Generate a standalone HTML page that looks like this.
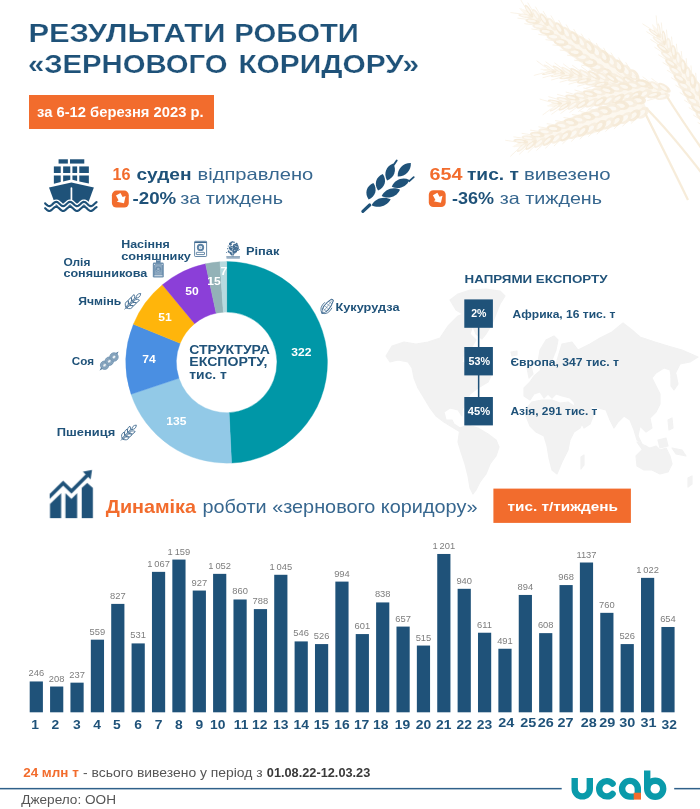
<!DOCTYPE html>
<html lang="uk">
<head>
<meta charset="utf-8">
<title>Результати роботи «зернового коридору»</title>
<style>
html,body{margin:0;padding:0;background:#fff;}
body{width:700px;height:809px;overflow:hidden;font-family:"Liberation Sans",sans-serif;}
svg{display:block;font-family:"Liberation Sans",sans-serif;}
svg text{white-space:pre;}
</style>
</head>
<body>
<svg width="700" height="809" viewBox="0 0 700 809">
<rect x="0" y="0" width="700" height="809" fill="#FFFFFF"/>
<defs><filter id="bl" x="-10%" y="-10%" width="120%" height="120%"><feGaussianBlur stdDeviation="0.7"/></filter></defs>
<g filter="url(#bl)" opacity="0.7">
<path d="M631,84 C640,104 664,150 688,200" fill="none" stroke="#F1DFC1" stroke-width="2.3" opacity="0.85"/>
<path d="M664,92 C674,108 690,132 704,152" fill="none" stroke="#F1DFC1" stroke-width="2.3" opacity="0.85"/>
<path d="M646,108 C662,124 684,150 704,176" fill="none" stroke="#F1DFC1" stroke-width="2.3" opacity="0.85"/>
<path d="M694,104 C697,112 700,118 704,126" fill="none" stroke="#F1DFC1" stroke-width="2.3" opacity="0.85"/>
<g transform="translate(634,84) rotate(-146.54)">
<path d="M0,-7.4 C34.5,-14.9 96.5,-12.2 137.8,0 C96.5,12.2 34.5,14.9 0,7.4 Z" fill="#F8EEDE" opacity="0.9"/>
<ellipse cx="4.4" cy="-6.7" rx="7.4" ry="4.6" transform="rotate(-24 4.4 -6.7)" fill="#F4E6CF" opacity="0.8"/>
<ellipse cx="5.4" cy="-6.2" rx="4.2" ry="2.1" transform="rotate(-24 4.4 -6.7)" fill="#FEFBF6" opacity="0.75"/>
<line x1="9.9" y1="-9.1" x2="18.9" y2="-13.5" stroke="#F4E7D1" stroke-width="0.8" opacity="0.8"/>
<ellipse cx="4.4" cy="6.7" rx="7.4" ry="4.6" transform="rotate(24 4.4 6.7)" fill="#F0DEC2" opacity="0.8"/>
<ellipse cx="5.4" cy="6.2" rx="4.2" ry="2.1" transform="rotate(24 4.4 6.7)" fill="#FEFBF6" opacity="0.75"/>
<line x1="9.9" y1="9.1" x2="18.9" y2="13.5" stroke="#F4E7D1" stroke-width="0.8" opacity="0.8"/>
<ellipse cx="7.9" cy="0" rx="5.5" ry="2.7" fill="#FBF5EA" opacity="0.8"/>
<ellipse cx="13.2" cy="-6.7" rx="7.4" ry="4.6" transform="rotate(-24 13.2 -6.7)" fill="#F0DEC2" opacity="0.8"/>
<ellipse cx="14.2" cy="-6.2" rx="4.2" ry="2.1" transform="rotate(-24 13.2 -6.7)" fill="#FEFBF6" opacity="0.75"/>
<line x1="18.7" y1="-9.1" x2="27.7" y2="-13.5" stroke="#F4E7D1" stroke-width="0.8" opacity="0.8"/>
<ellipse cx="13.2" cy="6.7" rx="7.4" ry="4.6" transform="rotate(24 13.2 6.7)" fill="#F4E6CF" opacity="0.8"/>
<ellipse cx="14.2" cy="6.2" rx="4.2" ry="2.1" transform="rotate(24 13.2 6.7)" fill="#FEFBF6" opacity="0.75"/>
<line x1="18.7" y1="9.1" x2="27.7" y2="13.5" stroke="#F4E7D1" stroke-width="0.8" opacity="0.8"/>
<ellipse cx="16.7" cy="0" rx="5.5" ry="2.7" fill="#FBF5EA" opacity="0.8"/>
<ellipse cx="22.1" cy="-6.7" rx="7.4" ry="4.6" transform="rotate(-24 22.1 -6.7)" fill="#F4E6CF" opacity="0.8"/>
<ellipse cx="23.1" cy="-6.2" rx="4.2" ry="2.1" transform="rotate(-24 22.1 -6.7)" fill="#FEFBF6" opacity="0.75"/>
<line x1="27.6" y1="-9.1" x2="36.6" y2="-13.5" stroke="#F4E7D1" stroke-width="0.8" opacity="0.8"/>
<ellipse cx="22.1" cy="6.7" rx="7.4" ry="4.6" transform="rotate(24 22.1 6.7)" fill="#F0DEC2" opacity="0.8"/>
<ellipse cx="23.1" cy="6.2" rx="4.2" ry="2.1" transform="rotate(24 22.1 6.7)" fill="#FEFBF6" opacity="0.75"/>
<line x1="27.6" y1="9.1" x2="36.6" y2="13.5" stroke="#F4E7D1" stroke-width="0.8" opacity="0.8"/>
<ellipse cx="25.6" cy="0" rx="5.5" ry="2.7" fill="#FBF5EA" opacity="0.8"/>
<ellipse cx="30.9" cy="-6.6" rx="7.4" ry="4.5" transform="rotate(-24 30.9 -6.6)" fill="#F0DEC2" opacity="0.8"/>
<ellipse cx="31.9" cy="-6.1" rx="4.2" ry="2.0" transform="rotate(-24 30.9 -6.6)" fill="#FEFBF6" opacity="0.75"/>
<line x1="36.4" y1="-9.0" x2="45.4" y2="-13.4" stroke="#F4E7D1" stroke-width="0.8" opacity="0.8"/>
<ellipse cx="30.9" cy="6.6" rx="7.4" ry="4.5" transform="rotate(24 30.9 6.6)" fill="#F4E6CF" opacity="0.8"/>
<ellipse cx="31.9" cy="6.1" rx="4.2" ry="2.0" transform="rotate(24 30.9 6.6)" fill="#FEFBF6" opacity="0.75"/>
<line x1="36.4" y1="9.0" x2="45.4" y2="13.4" stroke="#F4E7D1" stroke-width="0.8" opacity="0.8"/>
<ellipse cx="34.4" cy="0" rx="5.5" ry="2.7" fill="#FBF5EA" opacity="0.8"/>
<ellipse cx="39.7" cy="-6.6" rx="7.4" ry="4.5" transform="rotate(-24 39.7 -6.6)" fill="#F4E6CF" opacity="0.8"/>
<ellipse cx="40.7" cy="-6.0" rx="4.2" ry="2.0" transform="rotate(-24 39.7 -6.6)" fill="#FEFBF6" opacity="0.75"/>
<line x1="45.2" y1="-8.9" x2="54.2" y2="-13.3" stroke="#F4E7D1" stroke-width="0.8" opacity="0.8"/>
<ellipse cx="39.7" cy="6.6" rx="7.4" ry="4.5" transform="rotate(24 39.7 6.6)" fill="#F0DEC2" opacity="0.8"/>
<ellipse cx="40.7" cy="6.0" rx="4.2" ry="2.0" transform="rotate(24 39.7 6.6)" fill="#FEFBF6" opacity="0.75"/>
<line x1="45.2" y1="8.9" x2="54.2" y2="13.3" stroke="#F4E7D1" stroke-width="0.8" opacity="0.8"/>
<ellipse cx="43.2" cy="0" rx="5.5" ry="2.6" fill="#FBF5EA" opacity="0.8"/>
<ellipse cx="48.5" cy="-6.4" rx="7.4" ry="4.4" transform="rotate(-24 48.5 -6.4)" fill="#F0DEC2" opacity="0.8"/>
<ellipse cx="49.5" cy="-5.9" rx="4.2" ry="2.0" transform="rotate(-24 48.5 -6.4)" fill="#FEFBF6" opacity="0.75"/>
<line x1="54.0" y1="-8.7" x2="63.0" y2="-13.1" stroke="#F4E7D1" stroke-width="0.8" opacity="0.8"/>
<ellipse cx="48.5" cy="6.4" rx="7.4" ry="4.4" transform="rotate(24 48.5 6.4)" fill="#F4E6CF" opacity="0.8"/>
<ellipse cx="49.5" cy="5.9" rx="4.2" ry="2.0" transform="rotate(24 48.5 6.4)" fill="#FEFBF6" opacity="0.75"/>
<line x1="54.0" y1="8.7" x2="63.0" y2="13.1" stroke="#F4E7D1" stroke-width="0.8" opacity="0.8"/>
<ellipse cx="52.0" cy="0" rx="5.5" ry="2.6" fill="#FBF5EA" opacity="0.8"/>
<ellipse cx="57.3" cy="-6.2" rx="7.4" ry="4.2" transform="rotate(-24 57.3 -6.2)" fill="#F4E6CF" opacity="0.8"/>
<ellipse cx="58.3" cy="-5.7" rx="4.2" ry="1.9" transform="rotate(-24 57.3 -6.2)" fill="#FEFBF6" opacity="0.75"/>
<line x1="62.8" y1="-8.5" x2="71.8" y2="-12.9" stroke="#F4E7D1" stroke-width="0.8" opacity="0.8"/>
<ellipse cx="57.3" cy="6.2" rx="7.4" ry="4.2" transform="rotate(24 57.3 6.2)" fill="#F0DEC2" opacity="0.8"/>
<ellipse cx="58.3" cy="5.7" rx="4.2" ry="1.9" transform="rotate(24 57.3 6.2)" fill="#FEFBF6" opacity="0.75"/>
<line x1="62.8" y1="8.5" x2="71.8" y2="12.9" stroke="#F4E7D1" stroke-width="0.8" opacity="0.8"/>
<ellipse cx="60.8" cy="0" rx="5.5" ry="2.5" fill="#FBF5EA" opacity="0.8"/>
<ellipse cx="66.2" cy="-6.0" rx="7.4" ry="4.1" transform="rotate(-24 66.2 -6.0)" fill="#F0DEC2" opacity="0.8"/>
<ellipse cx="67.2" cy="-5.6" rx="4.2" ry="1.8" transform="rotate(-24 66.2 -6.0)" fill="#FEFBF6" opacity="0.75"/>
<line x1="71.7" y1="-8.2" x2="80.7" y2="-12.6" stroke="#F4E7D1" stroke-width="0.8" opacity="0.8"/>
<ellipse cx="66.2" cy="6.0" rx="7.4" ry="4.1" transform="rotate(24 66.2 6.0)" fill="#F4E6CF" opacity="0.8"/>
<ellipse cx="67.2" cy="5.6" rx="4.2" ry="1.8" transform="rotate(24 66.2 6.0)" fill="#FEFBF6" opacity="0.75"/>
<line x1="71.7" y1="8.2" x2="80.7" y2="12.6" stroke="#F4E7D1" stroke-width="0.8" opacity="0.8"/>
<ellipse cx="69.7" cy="0" rx="5.5" ry="2.4" fill="#FBF5EA" opacity="0.8"/>
<ellipse cx="75.0" cy="-5.8" rx="7.4" ry="3.9" transform="rotate(-24 75.0 -5.8)" fill="#F4E6CF" opacity="0.8"/>
<ellipse cx="76.0" cy="-5.3" rx="4.2" ry="1.8" transform="rotate(-24 75.0 -5.8)" fill="#FEFBF6" opacity="0.75"/>
<line x1="80.5" y1="-7.8" x2="89.5" y2="-12.2" stroke="#F4E7D1" stroke-width="0.8" opacity="0.8"/>
<ellipse cx="75.0" cy="5.8" rx="7.4" ry="3.9" transform="rotate(24 75.0 5.8)" fill="#F0DEC2" opacity="0.8"/>
<ellipse cx="76.0" cy="5.3" rx="4.2" ry="1.8" transform="rotate(24 75.0 5.8)" fill="#FEFBF6" opacity="0.75"/>
<line x1="80.5" y1="7.8" x2="89.5" y2="12.2" stroke="#F4E7D1" stroke-width="0.8" opacity="0.8"/>
<ellipse cx="78.5" cy="0" rx="5.5" ry="2.3" fill="#FBF5EA" opacity="0.8"/>
<ellipse cx="83.8" cy="-5.5" rx="7.4" ry="3.7" transform="rotate(-24 83.8 -5.5)" fill="#F0DEC2" opacity="0.8"/>
<ellipse cx="84.8" cy="-5.0" rx="4.2" ry="1.7" transform="rotate(-24 83.8 -5.5)" fill="#FEFBF6" opacity="0.75"/>
<line x1="89.3" y1="-7.4" x2="98.3" y2="-11.8" stroke="#F4E7D1" stroke-width="0.8" opacity="0.8"/>
<ellipse cx="83.8" cy="5.5" rx="7.4" ry="3.7" transform="rotate(24 83.8 5.5)" fill="#F4E6CF" opacity="0.8"/>
<ellipse cx="84.8" cy="5.0" rx="4.2" ry="1.7" transform="rotate(24 83.8 5.5)" fill="#FEFBF6" opacity="0.75"/>
<line x1="89.3" y1="7.4" x2="98.3" y2="11.8" stroke="#F4E7D1" stroke-width="0.8" opacity="0.8"/>
<ellipse cx="87.3" cy="0" rx="5.5" ry="2.2" fill="#FBF5EA" opacity="0.8"/>
<ellipse cx="92.6" cy="-5.1" rx="7.4" ry="3.5" transform="rotate(-24 92.6 -5.1)" fill="#F4E6CF" opacity="0.8"/>
<ellipse cx="93.6" cy="-4.7" rx="4.2" ry="1.6" transform="rotate(-24 92.6 -5.1)" fill="#FEFBF6" opacity="0.75"/>
<line x1="98.1" y1="-6.9" x2="107.1" y2="-11.3" stroke="#F4E7D1" stroke-width="0.8" opacity="0.8"/>
<ellipse cx="92.6" cy="5.1" rx="7.4" ry="3.5" transform="rotate(24 92.6 5.1)" fill="#F0DEC2" opacity="0.8"/>
<ellipse cx="93.6" cy="4.7" rx="4.2" ry="1.6" transform="rotate(24 92.6 5.1)" fill="#FEFBF6" opacity="0.75"/>
<line x1="98.1" y1="6.9" x2="107.1" y2="11.3" stroke="#F4E7D1" stroke-width="0.8" opacity="0.8"/>
<ellipse cx="96.1" cy="0" rx="5.5" ry="2.0" fill="#FBF5EA" opacity="0.8"/>
<ellipse cx="101.5" cy="-4.7" rx="7.4" ry="3.2" transform="rotate(-24 101.5 -4.7)" fill="#F0DEC2" opacity="0.8"/>
<ellipse cx="102.5" cy="-4.3" rx="4.2" ry="1.4" transform="rotate(-24 101.5 -4.7)" fill="#FEFBF6" opacity="0.75"/>
<line x1="107.0" y1="-6.3" x2="116.0" y2="-10.7" stroke="#F4E7D1" stroke-width="0.8" opacity="0.8"/>
<ellipse cx="101.5" cy="4.7" rx="7.4" ry="3.2" transform="rotate(24 101.5 4.7)" fill="#F4E6CF" opacity="0.8"/>
<ellipse cx="102.5" cy="4.3" rx="4.2" ry="1.4" transform="rotate(24 101.5 4.7)" fill="#FEFBF6" opacity="0.75"/>
<line x1="107.0" y1="6.3" x2="116.0" y2="10.7" stroke="#F4E7D1" stroke-width="0.8" opacity="0.8"/>
<ellipse cx="105.0" cy="0" rx="5.5" ry="1.9" fill="#FBF5EA" opacity="0.8"/>
<ellipse cx="110.3" cy="-4.2" rx="7.4" ry="2.8" transform="rotate(-24 110.3 -4.2)" fill="#F4E6CF" opacity="0.8"/>
<ellipse cx="111.3" cy="-3.8" rx="4.2" ry="1.3" transform="rotate(-24 110.3 -4.2)" fill="#FEFBF6" opacity="0.75"/>
<line x1="115.8" y1="-5.7" x2="124.8" y2="-10.1" stroke="#F4E7D1" stroke-width="0.8" opacity="0.8"/>
<ellipse cx="110.3" cy="4.2" rx="7.4" ry="2.8" transform="rotate(24 110.3 4.2)" fill="#F0DEC2" opacity="0.8"/>
<ellipse cx="111.3" cy="3.8" rx="4.2" ry="1.3" transform="rotate(24 110.3 4.2)" fill="#FEFBF6" opacity="0.75"/>
<line x1="115.8" y1="5.7" x2="124.8" y2="10.1" stroke="#F4E7D1" stroke-width="0.8" opacity="0.8"/>
<ellipse cx="113.8" cy="0" rx="5.5" ry="1.7" fill="#FBF5EA" opacity="0.8"/>
<ellipse cx="119.1" cy="-3.6" rx="7.4" ry="2.5" transform="rotate(-24 119.1 -3.6)" fill="#F0DEC2" opacity="0.8"/>
<ellipse cx="120.1" cy="-3.3" rx="4.2" ry="1.1" transform="rotate(-24 119.1 -3.6)" fill="#FEFBF6" opacity="0.75"/>
<line x1="124.6" y1="-4.9" x2="133.6" y2="-9.3" stroke="#F4E7D1" stroke-width="0.8" opacity="0.8"/>
<ellipse cx="119.1" cy="3.6" rx="7.4" ry="2.5" transform="rotate(24 119.1 3.6)" fill="#F4E6CF" opacity="0.8"/>
<ellipse cx="120.1" cy="3.3" rx="4.2" ry="1.1" transform="rotate(24 119.1 3.6)" fill="#FEFBF6" opacity="0.75"/>
<line x1="124.6" y1="4.9" x2="133.6" y2="9.3" stroke="#F4E7D1" stroke-width="0.8" opacity="0.8"/>
<ellipse cx="122.6" cy="0" rx="5.5" ry="1.5" fill="#FBF5EA" opacity="0.8"/>
<ellipse cx="127.9" cy="-3.0" rx="7.4" ry="2.1" transform="rotate(-24 127.9 -3.0)" fill="#F4E6CF" opacity="0.8"/>
<ellipse cx="128.9" cy="-2.8" rx="4.2" ry="0.9" transform="rotate(-24 127.9 -3.0)" fill="#FEFBF6" opacity="0.75"/>
<line x1="133.4" y1="-4.1" x2="142.4" y2="-8.5" stroke="#F4E7D1" stroke-width="0.8" opacity="0.8"/>
<ellipse cx="127.9" cy="3.0" rx="7.4" ry="2.1" transform="rotate(24 127.9 3.0)" fill="#F0DEC2" opacity="0.8"/>
<ellipse cx="128.9" cy="2.8" rx="4.2" ry="0.9" transform="rotate(24 127.9 3.0)" fill="#FEFBF6" opacity="0.75"/>
<line x1="133.4" y1="4.1" x2="142.4" y2="8.5" stroke="#F4E7D1" stroke-width="0.8" opacity="0.8"/>
<ellipse cx="131.4" cy="0" rx="5.5" ry="1.2" fill="#FBF5EA" opacity="0.8"/>
</g>
<g transform="translate(668,93) rotate(-169.38)">
<path d="M0,-5.0 C32.6,-9.9 91.2,-8.1 130.2,0 C91.2,8.1 32.6,9.9 0,5.0 Z" fill="#F8EEDE" opacity="0.9"/>
<ellipse cx="4.5" cy="-4.5" rx="7.4" ry="3.1" transform="rotate(-24 4.5 -4.5)" fill="#F4E6CF" opacity="0.8"/>
<ellipse cx="5.5" cy="-4.1" rx="4.2" ry="1.4" transform="rotate(-24 4.5 -4.5)" fill="#FEFBF6" opacity="0.75"/>
<line x1="10.0" y1="-6.9" x2="19.0" y2="-11.3" stroke="#F4E7D1" stroke-width="0.8" opacity="0.8"/>
<ellipse cx="4.5" cy="4.5" rx="7.4" ry="3.1" transform="rotate(24 4.5 4.5)" fill="#F0DEC2" opacity="0.8"/>
<ellipse cx="5.5" cy="4.1" rx="4.2" ry="1.4" transform="rotate(24 4.5 4.5)" fill="#FEFBF6" opacity="0.75"/>
<line x1="10.0" y1="6.9" x2="19.0" y2="11.3" stroke="#F4E7D1" stroke-width="0.8" opacity="0.8"/>
<ellipse cx="8.0" cy="0" rx="5.5" ry="1.8" fill="#FBF5EA" opacity="0.8"/>
<ellipse cx="13.4" cy="-4.5" rx="7.4" ry="3.1" transform="rotate(-24 13.4 -4.5)" fill="#F0DEC2" opacity="0.8"/>
<ellipse cx="14.4" cy="-4.1" rx="4.2" ry="1.4" transform="rotate(-24 13.4 -4.5)" fill="#FEFBF6" opacity="0.75"/>
<line x1="18.9" y1="-6.9" x2="27.9" y2="-11.3" stroke="#F4E7D1" stroke-width="0.8" opacity="0.8"/>
<ellipse cx="13.4" cy="4.5" rx="7.4" ry="3.1" transform="rotate(24 13.4 4.5)" fill="#F4E6CF" opacity="0.8"/>
<ellipse cx="14.4" cy="4.1" rx="4.2" ry="1.4" transform="rotate(24 13.4 4.5)" fill="#FEFBF6" opacity="0.75"/>
<line x1="18.9" y1="6.9" x2="27.9" y2="11.3" stroke="#F4E7D1" stroke-width="0.8" opacity="0.8"/>
<ellipse cx="16.9" cy="0" rx="5.5" ry="1.8" fill="#FBF5EA" opacity="0.8"/>
<ellipse cx="22.3" cy="-4.5" rx="7.4" ry="3.0" transform="rotate(-24 22.3 -4.5)" fill="#F4E6CF" opacity="0.8"/>
<ellipse cx="23.3" cy="-4.1" rx="4.2" ry="1.4" transform="rotate(-24 22.3 -4.5)" fill="#FEFBF6" opacity="0.75"/>
<line x1="27.8" y1="-6.8" x2="36.8" y2="-11.2" stroke="#F4E7D1" stroke-width="0.8" opacity="0.8"/>
<ellipse cx="22.3" cy="4.5" rx="7.4" ry="3.0" transform="rotate(24 22.3 4.5)" fill="#F0DEC2" opacity="0.8"/>
<ellipse cx="23.3" cy="4.1" rx="4.2" ry="1.4" transform="rotate(24 22.3 4.5)" fill="#FEFBF6" opacity="0.75"/>
<line x1="27.8" y1="6.8" x2="36.8" y2="11.2" stroke="#F4E7D1" stroke-width="0.8" opacity="0.8"/>
<ellipse cx="25.8" cy="0" rx="5.5" ry="1.8" fill="#FBF5EA" opacity="0.8"/>
<ellipse cx="31.3" cy="-4.4" rx="7.4" ry="3.0" transform="rotate(-24 31.3 -4.4)" fill="#F0DEC2" opacity="0.8"/>
<ellipse cx="32.3" cy="-4.1" rx="4.2" ry="1.4" transform="rotate(-24 31.3 -4.4)" fill="#FEFBF6" opacity="0.75"/>
<line x1="36.8" y1="-6.8" x2="45.8" y2="-11.2" stroke="#F4E7D1" stroke-width="0.8" opacity="0.8"/>
<ellipse cx="31.3" cy="4.4" rx="7.4" ry="3.0" transform="rotate(24 31.3 4.4)" fill="#F4E6CF" opacity="0.8"/>
<ellipse cx="32.3" cy="4.1" rx="4.2" ry="1.4" transform="rotate(24 31.3 4.4)" fill="#FEFBF6" opacity="0.75"/>
<line x1="36.8" y1="6.8" x2="45.8" y2="11.2" stroke="#F4E7D1" stroke-width="0.8" opacity="0.8"/>
<ellipse cx="34.8" cy="0" rx="5.5" ry="1.8" fill="#FBF5EA" opacity="0.8"/>
<ellipse cx="40.2" cy="-4.3" rx="7.4" ry="3.0" transform="rotate(-24 40.2 -4.3)" fill="#F4E6CF" opacity="0.8"/>
<ellipse cx="41.2" cy="-4.0" rx="4.2" ry="1.3" transform="rotate(-24 40.2 -4.3)" fill="#FEFBF6" opacity="0.75"/>
<line x1="45.7" y1="-6.7" x2="54.7" y2="-11.1" stroke="#F4E7D1" stroke-width="0.8" opacity="0.8"/>
<ellipse cx="40.2" cy="4.3" rx="7.4" ry="3.0" transform="rotate(24 40.2 4.3)" fill="#F0DEC2" opacity="0.8"/>
<ellipse cx="41.2" cy="4.0" rx="4.2" ry="1.3" transform="rotate(24 40.2 4.3)" fill="#FEFBF6" opacity="0.75"/>
<line x1="45.7" y1="6.7" x2="54.7" y2="11.1" stroke="#F4E7D1" stroke-width="0.8" opacity="0.8"/>
<ellipse cx="43.7" cy="0" rx="5.5" ry="1.7" fill="#FBF5EA" opacity="0.8"/>
<ellipse cx="49.1" cy="-4.2" rx="7.4" ry="2.9" transform="rotate(-24 49.1 -4.2)" fill="#F0DEC2" opacity="0.8"/>
<ellipse cx="50.1" cy="-3.9" rx="4.2" ry="1.3" transform="rotate(-24 49.1 -4.2)" fill="#FEFBF6" opacity="0.75"/>
<line x1="54.6" y1="-6.5" x2="63.6" y2="-10.9" stroke="#F4E7D1" stroke-width="0.8" opacity="0.8"/>
<ellipse cx="49.1" cy="4.2" rx="7.4" ry="2.9" transform="rotate(24 49.1 4.2)" fill="#F4E6CF" opacity="0.8"/>
<ellipse cx="50.1" cy="3.9" rx="4.2" ry="1.3" transform="rotate(24 49.1 4.2)" fill="#FEFBF6" opacity="0.75"/>
<line x1="54.6" y1="6.5" x2="63.6" y2="10.9" stroke="#F4E7D1" stroke-width="0.8" opacity="0.8"/>
<ellipse cx="52.6" cy="0" rx="5.5" ry="1.7" fill="#FBF5EA" opacity="0.8"/>
<ellipse cx="58.0" cy="-4.1" rx="7.4" ry="2.8" transform="rotate(-24 58.0 -4.1)" fill="#F4E6CF" opacity="0.8"/>
<ellipse cx="59.0" cy="-3.8" rx="4.2" ry="1.3" transform="rotate(-24 58.0 -4.1)" fill="#FEFBF6" opacity="0.75"/>
<line x1="63.5" y1="-6.3" x2="72.5" y2="-10.7" stroke="#F4E7D1" stroke-width="0.8" opacity="0.8"/>
<ellipse cx="58.0" cy="4.1" rx="7.4" ry="2.8" transform="rotate(24 58.0 4.1)" fill="#F0DEC2" opacity="0.8"/>
<ellipse cx="59.0" cy="3.8" rx="4.2" ry="1.3" transform="rotate(24 58.0 4.1)" fill="#FEFBF6" opacity="0.75"/>
<line x1="63.5" y1="6.3" x2="72.5" y2="10.7" stroke="#F4E7D1" stroke-width="0.8" opacity="0.8"/>
<ellipse cx="61.5" cy="0" rx="5.5" ry="1.6" fill="#FBF5EA" opacity="0.8"/>
<ellipse cx="67.0" cy="-3.9" rx="7.4" ry="2.7" transform="rotate(-24 67.0 -3.9)" fill="#F0DEC2" opacity="0.8"/>
<ellipse cx="68.0" cy="-3.6" rx="4.2" ry="1.2" transform="rotate(-24 67.0 -3.9)" fill="#FEFBF6" opacity="0.75"/>
<line x1="72.5" y1="-6.0" x2="81.5" y2="-10.4" stroke="#F4E7D1" stroke-width="0.8" opacity="0.8"/>
<ellipse cx="67.0" cy="3.9" rx="7.4" ry="2.7" transform="rotate(24 67.0 3.9)" fill="#F4E6CF" opacity="0.8"/>
<ellipse cx="68.0" cy="3.6" rx="4.2" ry="1.2" transform="rotate(24 67.0 3.9)" fill="#FEFBF6" opacity="0.75"/>
<line x1="72.5" y1="6.0" x2="81.5" y2="10.4" stroke="#F4E7D1" stroke-width="0.8" opacity="0.8"/>
<ellipse cx="70.5" cy="0" rx="5.5" ry="1.6" fill="#FBF5EA" opacity="0.8"/>
<ellipse cx="75.9" cy="-3.7" rx="7.4" ry="2.5" transform="rotate(-24 75.9 -3.7)" fill="#F4E6CF" opacity="0.8"/>
<ellipse cx="76.9" cy="-3.4" rx="4.2" ry="1.1" transform="rotate(-24 75.9 -3.7)" fill="#FEFBF6" opacity="0.75"/>
<line x1="81.4" y1="-5.7" x2="90.4" y2="-10.1" stroke="#F4E7D1" stroke-width="0.8" opacity="0.8"/>
<ellipse cx="75.9" cy="3.7" rx="7.4" ry="2.5" transform="rotate(24 75.9 3.7)" fill="#F0DEC2" opacity="0.8"/>
<ellipse cx="76.9" cy="3.4" rx="4.2" ry="1.1" transform="rotate(24 75.9 3.7)" fill="#FEFBF6" opacity="0.75"/>
<line x1="81.4" y1="5.7" x2="90.4" y2="10.1" stroke="#F4E7D1" stroke-width="0.8" opacity="0.8"/>
<ellipse cx="79.4" cy="0" rx="5.5" ry="1.5" fill="#FBF5EA" opacity="0.8"/>
<ellipse cx="84.8" cy="-3.5" rx="7.4" ry="2.4" transform="rotate(-24 84.8 -3.5)" fill="#F0DEC2" opacity="0.8"/>
<ellipse cx="85.8" cy="-3.2" rx="4.2" ry="1.1" transform="rotate(-24 84.8 -3.5)" fill="#FEFBF6" opacity="0.75"/>
<line x1="90.3" y1="-5.3" x2="99.3" y2="-9.7" stroke="#F4E7D1" stroke-width="0.8" opacity="0.8"/>
<ellipse cx="84.8" cy="3.5" rx="7.4" ry="2.4" transform="rotate(24 84.8 3.5)" fill="#F4E6CF" opacity="0.8"/>
<ellipse cx="85.8" cy="3.2" rx="4.2" ry="1.1" transform="rotate(24 84.8 3.5)" fill="#FEFBF6" opacity="0.75"/>
<line x1="90.3" y1="5.3" x2="99.3" y2="9.7" stroke="#F4E7D1" stroke-width="0.8" opacity="0.8"/>
<ellipse cx="88.3" cy="0" rx="5.5" ry="1.4" fill="#FBF5EA" opacity="0.8"/>
<ellipse cx="93.8" cy="-3.2" rx="7.4" ry="2.2" transform="rotate(-24 93.8 -3.2)" fill="#F4E6CF" opacity="0.8"/>
<ellipse cx="94.8" cy="-2.9" rx="4.2" ry="1.0" transform="rotate(-24 93.8 -3.2)" fill="#FEFBF6" opacity="0.75"/>
<line x1="99.3" y1="-4.9" x2="108.3" y2="-9.3" stroke="#F4E7D1" stroke-width="0.8" opacity="0.8"/>
<ellipse cx="93.8" cy="3.2" rx="7.4" ry="2.2" transform="rotate(24 93.8 3.2)" fill="#F0DEC2" opacity="0.8"/>
<ellipse cx="94.8" cy="2.9" rx="4.2" ry="1.0" transform="rotate(24 93.8 3.2)" fill="#FEFBF6" opacity="0.75"/>
<line x1="99.3" y1="4.9" x2="108.3" y2="9.3" stroke="#F4E7D1" stroke-width="0.8" opacity="0.8"/>
<ellipse cx="97.3" cy="0" rx="5.5" ry="1.3" fill="#FBF5EA" opacity="0.8"/>
<ellipse cx="102.7" cy="-2.8" rx="7.4" ry="1.9" transform="rotate(-24 102.7 -2.8)" fill="#F0DEC2" opacity="0.8"/>
<ellipse cx="103.7" cy="-2.6" rx="4.2" ry="0.9" transform="rotate(-24 102.7 -2.8)" fill="#FEFBF6" opacity="0.75"/>
<line x1="108.2" y1="-4.4" x2="117.2" y2="-8.8" stroke="#F4E7D1" stroke-width="0.8" opacity="0.8"/>
<ellipse cx="102.7" cy="2.8" rx="7.4" ry="1.9" transform="rotate(24 102.7 2.8)" fill="#F4E6CF" opacity="0.8"/>
<ellipse cx="103.7" cy="2.6" rx="4.2" ry="0.9" transform="rotate(24 102.7 2.8)" fill="#FEFBF6" opacity="0.75"/>
<line x1="108.2" y1="4.4" x2="117.2" y2="8.8" stroke="#F4E7D1" stroke-width="0.8" opacity="0.8"/>
<ellipse cx="106.2" cy="0" rx="5.5" ry="1.1" fill="#FBF5EA" opacity="0.8"/>
<ellipse cx="111.6" cy="-2.5" rx="7.4" ry="1.7" transform="rotate(-24 111.6 -2.5)" fill="#F4E6CF" opacity="0.8"/>
<ellipse cx="112.6" cy="-2.3" rx="4.2" ry="0.8" transform="rotate(-24 111.6 -2.5)" fill="#FEFBF6" opacity="0.75"/>
<line x1="117.1" y1="-3.8" x2="126.1" y2="-8.2" stroke="#F4E7D1" stroke-width="0.8" opacity="0.8"/>
<ellipse cx="111.6" cy="2.5" rx="7.4" ry="1.7" transform="rotate(24 111.6 2.5)" fill="#F0DEC2" opacity="0.8"/>
<ellipse cx="112.6" cy="2.3" rx="4.2" ry="0.8" transform="rotate(24 111.6 2.5)" fill="#FEFBF6" opacity="0.75"/>
<line x1="117.1" y1="3.8" x2="126.1" y2="8.2" stroke="#F4E7D1" stroke-width="0.8" opacity="0.8"/>
<ellipse cx="115.1" cy="0" rx="5.5" ry="1.0" fill="#FBF5EA" opacity="0.8"/>
<ellipse cx="120.6" cy="-2.0" rx="7.4" ry="1.4" transform="rotate(-24 120.6 -2.0)" fill="#F0DEC2" opacity="0.8"/>
<ellipse cx="121.6" cy="-1.9" rx="4.2" ry="0.6" transform="rotate(-24 120.6 -2.0)" fill="#FEFBF6" opacity="0.75"/>
<line x1="126.1" y1="-3.1" x2="135.1" y2="-7.5" stroke="#F4E7D1" stroke-width="0.8" opacity="0.8"/>
<ellipse cx="120.6" cy="2.0" rx="7.4" ry="1.4" transform="rotate(24 120.6 2.0)" fill="#F4E6CF" opacity="0.8"/>
<ellipse cx="121.6" cy="1.9" rx="4.2" ry="0.6" transform="rotate(24 120.6 2.0)" fill="#FEFBF6" opacity="0.75"/>
<line x1="126.1" y1="3.1" x2="135.1" y2="7.5" stroke="#F4E7D1" stroke-width="0.8" opacity="0.8"/>
<ellipse cx="124.1" cy="0" rx="5.5" ry="0.8" fill="#FBF5EA" opacity="0.8"/>
</g>
<g transform="translate(648,88) rotate(169.89)">
<path d="M0,-6.1 C25.6,-12.1 71.8,-9.9 102.6,0 C71.8,9.9 25.6,12.1 0,6.1 Z" fill="#F8EEDE" opacity="0.9"/>
<ellipse cx="4.5" cy="-5.5" rx="7.4" ry="3.7" transform="rotate(-24 4.5 -5.5)" fill="#F4E6CF" opacity="0.8"/>
<ellipse cx="5.5" cy="-5.1" rx="4.2" ry="1.7" transform="rotate(-24 4.5 -5.5)" fill="#FEFBF6" opacity="0.75"/>
<line x1="10.0" y1="-7.9" x2="19.0" y2="-12.3" stroke="#F4E7D1" stroke-width="0.8" opacity="0.8"/>
<ellipse cx="4.5" cy="5.5" rx="7.4" ry="3.7" transform="rotate(24 4.5 5.5)" fill="#F0DEC2" opacity="0.8"/>
<ellipse cx="5.5" cy="5.1" rx="4.2" ry="1.7" transform="rotate(24 4.5 5.5)" fill="#FEFBF6" opacity="0.75"/>
<line x1="10.0" y1="7.9" x2="19.0" y2="12.3" stroke="#F4E7D1" stroke-width="0.8" opacity="0.8"/>
<ellipse cx="8.0" cy="0" rx="5.5" ry="2.2" fill="#FBF5EA" opacity="0.8"/>
<ellipse cx="13.4" cy="-5.5" rx="7.4" ry="3.7" transform="rotate(-24 13.4 -5.5)" fill="#F0DEC2" opacity="0.8"/>
<ellipse cx="14.4" cy="-5.0" rx="4.2" ry="1.7" transform="rotate(-24 13.4 -5.5)" fill="#FEFBF6" opacity="0.75"/>
<line x1="18.9" y1="-7.9" x2="27.9" y2="-12.3" stroke="#F4E7D1" stroke-width="0.8" opacity="0.8"/>
<ellipse cx="13.4" cy="5.5" rx="7.4" ry="3.7" transform="rotate(24 13.4 5.5)" fill="#F4E6CF" opacity="0.8"/>
<ellipse cx="14.4" cy="5.0" rx="4.2" ry="1.7" transform="rotate(24 13.4 5.5)" fill="#FEFBF6" opacity="0.75"/>
<line x1="18.9" y1="7.9" x2="27.9" y2="12.3" stroke="#F4E7D1" stroke-width="0.8" opacity="0.8"/>
<ellipse cx="16.9" cy="0" rx="5.5" ry="2.2" fill="#FBF5EA" opacity="0.8"/>
<ellipse cx="22.4" cy="-5.4" rx="7.4" ry="3.7" transform="rotate(-24 22.4 -5.4)" fill="#F4E6CF" opacity="0.8"/>
<ellipse cx="23.4" cy="-5.0" rx="4.2" ry="1.7" transform="rotate(-24 22.4 -5.4)" fill="#FEFBF6" opacity="0.75"/>
<line x1="27.9" y1="-7.8" x2="36.9" y2="-12.2" stroke="#F4E7D1" stroke-width="0.8" opacity="0.8"/>
<ellipse cx="22.4" cy="5.4" rx="7.4" ry="3.7" transform="rotate(24 22.4 5.4)" fill="#F0DEC2" opacity="0.8"/>
<ellipse cx="23.4" cy="5.0" rx="4.2" ry="1.7" transform="rotate(24 22.4 5.4)" fill="#FEFBF6" opacity="0.75"/>
<line x1="27.9" y1="7.8" x2="36.9" y2="12.2" stroke="#F4E7D1" stroke-width="0.8" opacity="0.8"/>
<ellipse cx="25.9" cy="0" rx="5.5" ry="2.2" fill="#FBF5EA" opacity="0.8"/>
<ellipse cx="31.3" cy="-5.3" rx="7.4" ry="3.6" transform="rotate(-24 31.3 -5.3)" fill="#F0DEC2" opacity="0.8"/>
<ellipse cx="32.3" cy="-4.9" rx="4.2" ry="1.6" transform="rotate(-24 31.3 -5.3)" fill="#FEFBF6" opacity="0.75"/>
<line x1="36.8" y1="-7.6" x2="45.8" y2="-12.0" stroke="#F4E7D1" stroke-width="0.8" opacity="0.8"/>
<ellipse cx="31.3" cy="5.3" rx="7.4" ry="3.6" transform="rotate(24 31.3 5.3)" fill="#F4E6CF" opacity="0.8"/>
<ellipse cx="32.3" cy="4.9" rx="4.2" ry="1.6" transform="rotate(24 31.3 5.3)" fill="#FEFBF6" opacity="0.75"/>
<line x1="36.8" y1="7.6" x2="45.8" y2="12.0" stroke="#F4E7D1" stroke-width="0.8" opacity="0.8"/>
<ellipse cx="34.8" cy="0" rx="5.5" ry="2.1" fill="#FBF5EA" opacity="0.8"/>
<ellipse cx="40.3" cy="-5.1" rx="7.4" ry="3.5" transform="rotate(-24 40.3 -5.1)" fill="#F4E6CF" opacity="0.8"/>
<ellipse cx="41.3" cy="-4.7" rx="4.2" ry="1.6" transform="rotate(-24 40.3 -5.1)" fill="#FEFBF6" opacity="0.75"/>
<line x1="45.8" y1="-7.4" x2="54.8" y2="-11.8" stroke="#F4E7D1" stroke-width="0.8" opacity="0.8"/>
<ellipse cx="40.3" cy="5.1" rx="7.4" ry="3.5" transform="rotate(24 40.3 5.1)" fill="#F0DEC2" opacity="0.8"/>
<ellipse cx="41.3" cy="4.7" rx="4.2" ry="1.6" transform="rotate(24 40.3 5.1)" fill="#FEFBF6" opacity="0.75"/>
<line x1="45.8" y1="7.4" x2="54.8" y2="11.8" stroke="#F4E7D1" stroke-width="0.8" opacity="0.8"/>
<ellipse cx="43.8" cy="0" rx="5.5" ry="2.1" fill="#FBF5EA" opacity="0.8"/>
<ellipse cx="49.2" cy="-4.9" rx="7.4" ry="3.3" transform="rotate(-24 49.2 -4.9)" fill="#F0DEC2" opacity="0.8"/>
<ellipse cx="50.2" cy="-4.5" rx="4.2" ry="1.5" transform="rotate(-24 49.2 -4.9)" fill="#FEFBF6" opacity="0.75"/>
<line x1="54.7" y1="-7.1" x2="63.7" y2="-11.5" stroke="#F4E7D1" stroke-width="0.8" opacity="0.8"/>
<ellipse cx="49.2" cy="4.9" rx="7.4" ry="3.3" transform="rotate(24 49.2 4.9)" fill="#F4E6CF" opacity="0.8"/>
<ellipse cx="50.2" cy="4.5" rx="4.2" ry="1.5" transform="rotate(24 49.2 4.9)" fill="#FEFBF6" opacity="0.75"/>
<line x1="54.7" y1="7.1" x2="63.7" y2="11.5" stroke="#F4E7D1" stroke-width="0.8" opacity="0.8"/>
<ellipse cx="52.7" cy="0" rx="5.5" ry="2.0" fill="#FBF5EA" opacity="0.8"/>
<ellipse cx="58.2" cy="-4.6" rx="7.4" ry="3.1" transform="rotate(-24 58.2 -4.6)" fill="#F4E6CF" opacity="0.8"/>
<ellipse cx="59.2" cy="-4.2" rx="4.2" ry="1.4" transform="rotate(-24 58.2 -4.6)" fill="#FEFBF6" opacity="0.75"/>
<line x1="63.7" y1="-6.6" x2="72.7" y2="-11.0" stroke="#F4E7D1" stroke-width="0.8" opacity="0.8"/>
<ellipse cx="58.2" cy="4.6" rx="7.4" ry="3.1" transform="rotate(24 58.2 4.6)" fill="#F0DEC2" opacity="0.8"/>
<ellipse cx="59.2" cy="4.2" rx="4.2" ry="1.4" transform="rotate(24 58.2 4.6)" fill="#FEFBF6" opacity="0.75"/>
<line x1="63.7" y1="6.6" x2="72.7" y2="11.0" stroke="#F4E7D1" stroke-width="0.8" opacity="0.8"/>
<ellipse cx="61.7" cy="0" rx="5.5" ry="1.8" fill="#FBF5EA" opacity="0.8"/>
<ellipse cx="67.2" cy="-4.2" rx="7.4" ry="2.9" transform="rotate(-24 67.2 -4.2)" fill="#F0DEC2" opacity="0.8"/>
<ellipse cx="68.2" cy="-3.9" rx="4.2" ry="1.3" transform="rotate(-24 67.2 -4.2)" fill="#FEFBF6" opacity="0.75"/>
<line x1="72.7" y1="-6.1" x2="81.7" y2="-10.5" stroke="#F4E7D1" stroke-width="0.8" opacity="0.8"/>
<ellipse cx="67.2" cy="4.2" rx="7.4" ry="2.9" transform="rotate(24 67.2 4.2)" fill="#F4E6CF" opacity="0.8"/>
<ellipse cx="68.2" cy="3.9" rx="4.2" ry="1.3" transform="rotate(24 67.2 4.2)" fill="#FEFBF6" opacity="0.75"/>
<line x1="72.7" y1="6.1" x2="81.7" y2="10.5" stroke="#F4E7D1" stroke-width="0.8" opacity="0.8"/>
<ellipse cx="70.7" cy="0" rx="5.5" ry="1.7" fill="#FBF5EA" opacity="0.8"/>
<ellipse cx="76.1" cy="-3.8" rx="7.4" ry="2.6" transform="rotate(-24 76.1 -3.8)" fill="#F4E6CF" opacity="0.8"/>
<ellipse cx="77.1" cy="-3.5" rx="4.2" ry="1.2" transform="rotate(-24 76.1 -3.8)" fill="#FEFBF6" opacity="0.75"/>
<line x1="81.6" y1="-5.4" x2="90.6" y2="-9.8" stroke="#F4E7D1" stroke-width="0.8" opacity="0.8"/>
<ellipse cx="76.1" cy="3.8" rx="7.4" ry="2.6" transform="rotate(24 76.1 3.8)" fill="#F0DEC2" opacity="0.8"/>
<ellipse cx="77.1" cy="3.5" rx="4.2" ry="1.2" transform="rotate(24 76.1 3.8)" fill="#FEFBF6" opacity="0.75"/>
<line x1="81.6" y1="5.4" x2="90.6" y2="9.8" stroke="#F4E7D1" stroke-width="0.8" opacity="0.8"/>
<ellipse cx="79.6" cy="0" rx="5.5" ry="1.5" fill="#FBF5EA" opacity="0.8"/>
<ellipse cx="85.1" cy="-3.2" rx="7.4" ry="2.2" transform="rotate(-24 85.1 -3.2)" fill="#F0DEC2" opacity="0.8"/>
<ellipse cx="86.1" cy="-3.0" rx="4.2" ry="1.0" transform="rotate(-24 85.1 -3.2)" fill="#FEFBF6" opacity="0.75"/>
<line x1="90.6" y1="-4.6" x2="99.6" y2="-9.0" stroke="#F4E7D1" stroke-width="0.8" opacity="0.8"/>
<ellipse cx="85.1" cy="3.2" rx="7.4" ry="2.2" transform="rotate(24 85.1 3.2)" fill="#F4E6CF" opacity="0.8"/>
<ellipse cx="86.1" cy="3.0" rx="4.2" ry="1.0" transform="rotate(24 85.1 3.2)" fill="#FEFBF6" opacity="0.75"/>
<line x1="90.6" y1="4.6" x2="99.6" y2="9.0" stroke="#F4E7D1" stroke-width="0.8" opacity="0.8"/>
<ellipse cx="88.6" cy="0" rx="5.5" ry="1.3" fill="#FBF5EA" opacity="0.8"/>
<ellipse cx="94.0" cy="-2.6" rx="7.4" ry="1.7" transform="rotate(-24 94.0 -2.6)" fill="#F4E6CF" opacity="0.8"/>
<ellipse cx="95.0" cy="-2.4" rx="4.2" ry="0.8" transform="rotate(-24 94.0 -2.6)" fill="#FEFBF6" opacity="0.75"/>
<line x1="99.5" y1="-3.7" x2="108.5" y2="-8.1" stroke="#F4E7D1" stroke-width="0.8" opacity="0.8"/>
<ellipse cx="94.0" cy="2.6" rx="7.4" ry="1.7" transform="rotate(24 94.0 2.6)" fill="#F0DEC2" opacity="0.8"/>
<ellipse cx="95.0" cy="2.4" rx="4.2" ry="0.8" transform="rotate(24 94.0 2.6)" fill="#FEFBF6" opacity="0.75"/>
<line x1="99.5" y1="3.7" x2="108.5" y2="8.1" stroke="#F4E7D1" stroke-width="0.8" opacity="0.8"/>
<ellipse cx="97.5" cy="0" rx="5.5" ry="1.0" fill="#FBF5EA" opacity="0.8"/>
</g>
<g transform="translate(645,105) rotate(162.47)">
<path d="M0,-7.4 C34.9,-14.9 97.6,-12.2 139.5,0 C97.6,12.2 34.9,14.9 0,7.4 Z" fill="#F8EEDE" opacity="0.9"/>
<ellipse cx="4.5" cy="-6.7" rx="7.4" ry="4.6" transform="rotate(-24 4.5 -6.7)" fill="#F4E6CF" opacity="0.8"/>
<ellipse cx="5.5" cy="-6.2" rx="4.2" ry="2.1" transform="rotate(-24 4.5 -6.7)" fill="#FEFBF6" opacity="0.75"/>
<line x1="10.0" y1="-9.1" x2="19.0" y2="-13.5" stroke="#F4E7D1" stroke-width="0.8" opacity="0.8"/>
<ellipse cx="4.5" cy="6.7" rx="7.4" ry="4.6" transform="rotate(24 4.5 6.7)" fill="#F0DEC2" opacity="0.8"/>
<ellipse cx="5.5" cy="6.2" rx="4.2" ry="2.1" transform="rotate(24 4.5 6.7)" fill="#FEFBF6" opacity="0.75"/>
<line x1="10.0" y1="9.1" x2="19.0" y2="13.5" stroke="#F4E7D1" stroke-width="0.8" opacity="0.8"/>
<ellipse cx="8.0" cy="0" rx="5.5" ry="2.7" fill="#FBF5EA" opacity="0.8"/>
<ellipse cx="13.4" cy="-6.7" rx="7.4" ry="4.6" transform="rotate(-24 13.4 -6.7)" fill="#F0DEC2" opacity="0.8"/>
<ellipse cx="14.4" cy="-6.2" rx="4.2" ry="2.1" transform="rotate(-24 13.4 -6.7)" fill="#FEFBF6" opacity="0.75"/>
<line x1="18.9" y1="-9.1" x2="27.9" y2="-13.5" stroke="#F4E7D1" stroke-width="0.8" opacity="0.8"/>
<ellipse cx="13.4" cy="6.7" rx="7.4" ry="4.6" transform="rotate(24 13.4 6.7)" fill="#F4E6CF" opacity="0.8"/>
<ellipse cx="14.4" cy="6.2" rx="4.2" ry="2.1" transform="rotate(24 13.4 6.7)" fill="#FEFBF6" opacity="0.75"/>
<line x1="18.9" y1="9.1" x2="27.9" y2="13.5" stroke="#F4E7D1" stroke-width="0.8" opacity="0.8"/>
<ellipse cx="16.9" cy="0" rx="5.5" ry="2.7" fill="#FBF5EA" opacity="0.8"/>
<ellipse cx="22.3" cy="-6.7" rx="7.4" ry="4.6" transform="rotate(-24 22.3 -6.7)" fill="#F4E6CF" opacity="0.8"/>
<ellipse cx="23.3" cy="-6.2" rx="4.2" ry="2.1" transform="rotate(-24 22.3 -6.7)" fill="#FEFBF6" opacity="0.75"/>
<line x1="27.8" y1="-9.1" x2="36.8" y2="-13.5" stroke="#F4E7D1" stroke-width="0.8" opacity="0.8"/>
<ellipse cx="22.3" cy="6.7" rx="7.4" ry="4.6" transform="rotate(24 22.3 6.7)" fill="#F0DEC2" opacity="0.8"/>
<ellipse cx="23.3" cy="6.2" rx="4.2" ry="2.1" transform="rotate(24 22.3 6.7)" fill="#FEFBF6" opacity="0.75"/>
<line x1="27.8" y1="9.1" x2="36.8" y2="13.5" stroke="#F4E7D1" stroke-width="0.8" opacity="0.8"/>
<ellipse cx="25.8" cy="0" rx="5.5" ry="2.7" fill="#FBF5EA" opacity="0.8"/>
<ellipse cx="31.2" cy="-6.6" rx="7.4" ry="4.5" transform="rotate(-24 31.2 -6.6)" fill="#F0DEC2" opacity="0.8"/>
<ellipse cx="32.2" cy="-6.1" rx="4.2" ry="2.0" transform="rotate(-24 31.2 -6.6)" fill="#FEFBF6" opacity="0.75"/>
<line x1="36.7" y1="-9.0" x2="45.7" y2="-13.4" stroke="#F4E7D1" stroke-width="0.8" opacity="0.8"/>
<ellipse cx="31.2" cy="6.6" rx="7.4" ry="4.5" transform="rotate(24 31.2 6.6)" fill="#F4E6CF" opacity="0.8"/>
<ellipse cx="32.2" cy="6.1" rx="4.2" ry="2.0" transform="rotate(24 31.2 6.6)" fill="#FEFBF6" opacity="0.75"/>
<line x1="36.7" y1="9.0" x2="45.7" y2="13.4" stroke="#F4E7D1" stroke-width="0.8" opacity="0.8"/>
<ellipse cx="34.7" cy="0" rx="5.5" ry="2.7" fill="#FBF5EA" opacity="0.8"/>
<ellipse cx="40.2" cy="-6.6" rx="7.4" ry="4.5" transform="rotate(-24 40.2 -6.6)" fill="#F4E6CF" opacity="0.8"/>
<ellipse cx="41.2" cy="-6.0" rx="4.2" ry="2.0" transform="rotate(-24 40.2 -6.6)" fill="#FEFBF6" opacity="0.75"/>
<line x1="45.7" y1="-8.9" x2="54.7" y2="-13.3" stroke="#F4E7D1" stroke-width="0.8" opacity="0.8"/>
<ellipse cx="40.2" cy="6.6" rx="7.4" ry="4.5" transform="rotate(24 40.2 6.6)" fill="#F0DEC2" opacity="0.8"/>
<ellipse cx="41.2" cy="6.0" rx="4.2" ry="2.0" transform="rotate(24 40.2 6.6)" fill="#FEFBF6" opacity="0.75"/>
<line x1="45.7" y1="8.9" x2="54.7" y2="13.3" stroke="#F4E7D1" stroke-width="0.8" opacity="0.8"/>
<ellipse cx="43.7" cy="0" rx="5.5" ry="2.6" fill="#FBF5EA" opacity="0.8"/>
<ellipse cx="49.1" cy="-6.4" rx="7.4" ry="4.4" transform="rotate(-24 49.1 -6.4)" fill="#F0DEC2" opacity="0.8"/>
<ellipse cx="50.1" cy="-5.9" rx="4.2" ry="2.0" transform="rotate(-24 49.1 -6.4)" fill="#FEFBF6" opacity="0.75"/>
<line x1="54.6" y1="-8.7" x2="63.6" y2="-13.1" stroke="#F4E7D1" stroke-width="0.8" opacity="0.8"/>
<ellipse cx="49.1" cy="6.4" rx="7.4" ry="4.4" transform="rotate(24 49.1 6.4)" fill="#F4E6CF" opacity="0.8"/>
<ellipse cx="50.1" cy="5.9" rx="4.2" ry="2.0" transform="rotate(24 49.1 6.4)" fill="#FEFBF6" opacity="0.75"/>
<line x1="54.6" y1="8.7" x2="63.6" y2="13.1" stroke="#F4E7D1" stroke-width="0.8" opacity="0.8"/>
<ellipse cx="52.6" cy="0" rx="5.5" ry="2.6" fill="#FBF5EA" opacity="0.8"/>
<ellipse cx="58.0" cy="-6.2" rx="7.4" ry="4.2" transform="rotate(-24 58.0 -6.2)" fill="#F4E6CF" opacity="0.8"/>
<ellipse cx="59.0" cy="-5.7" rx="4.2" ry="1.9" transform="rotate(-24 58.0 -6.2)" fill="#FEFBF6" opacity="0.75"/>
<line x1="63.5" y1="-8.5" x2="72.5" y2="-12.9" stroke="#F4E7D1" stroke-width="0.8" opacity="0.8"/>
<ellipse cx="58.0" cy="6.2" rx="7.4" ry="4.2" transform="rotate(24 58.0 6.2)" fill="#F0DEC2" opacity="0.8"/>
<ellipse cx="59.0" cy="5.7" rx="4.2" ry="1.9" transform="rotate(24 58.0 6.2)" fill="#FEFBF6" opacity="0.75"/>
<line x1="63.5" y1="8.5" x2="72.5" y2="12.9" stroke="#F4E7D1" stroke-width="0.8" opacity="0.8"/>
<ellipse cx="61.5" cy="0" rx="5.5" ry="2.5" fill="#FBF5EA" opacity="0.8"/>
<ellipse cx="66.9" cy="-6.0" rx="7.4" ry="4.1" transform="rotate(-24 66.9 -6.0)" fill="#F0DEC2" opacity="0.8"/>
<ellipse cx="67.9" cy="-5.6" rx="4.2" ry="1.8" transform="rotate(-24 66.9 -6.0)" fill="#FEFBF6" opacity="0.75"/>
<line x1="72.4" y1="-8.2" x2="81.4" y2="-12.6" stroke="#F4E7D1" stroke-width="0.8" opacity="0.8"/>
<ellipse cx="66.9" cy="6.0" rx="7.4" ry="4.1" transform="rotate(24 66.9 6.0)" fill="#F4E6CF" opacity="0.8"/>
<ellipse cx="67.9" cy="5.6" rx="4.2" ry="1.8" transform="rotate(24 66.9 6.0)" fill="#FEFBF6" opacity="0.75"/>
<line x1="72.4" y1="8.2" x2="81.4" y2="12.6" stroke="#F4E7D1" stroke-width="0.8" opacity="0.8"/>
<ellipse cx="70.4" cy="0" rx="5.5" ry="2.4" fill="#FBF5EA" opacity="0.8"/>
<ellipse cx="75.9" cy="-5.8" rx="7.4" ry="3.9" transform="rotate(-24 75.9 -5.8)" fill="#F4E6CF" opacity="0.8"/>
<ellipse cx="76.9" cy="-5.3" rx="4.2" ry="1.8" transform="rotate(-24 75.9 -5.8)" fill="#FEFBF6" opacity="0.75"/>
<line x1="81.4" y1="-7.8" x2="90.4" y2="-12.2" stroke="#F4E7D1" stroke-width="0.8" opacity="0.8"/>
<ellipse cx="75.9" cy="5.8" rx="7.4" ry="3.9" transform="rotate(24 75.9 5.8)" fill="#F0DEC2" opacity="0.8"/>
<ellipse cx="76.9" cy="5.3" rx="4.2" ry="1.8" transform="rotate(24 75.9 5.8)" fill="#FEFBF6" opacity="0.75"/>
<line x1="81.4" y1="7.8" x2="90.4" y2="12.2" stroke="#F4E7D1" stroke-width="0.8" opacity="0.8"/>
<ellipse cx="79.4" cy="0" rx="5.5" ry="2.3" fill="#FBF5EA" opacity="0.8"/>
<ellipse cx="84.8" cy="-5.5" rx="7.4" ry="3.7" transform="rotate(-24 84.8 -5.5)" fill="#F0DEC2" opacity="0.8"/>
<ellipse cx="85.8" cy="-5.0" rx="4.2" ry="1.7" transform="rotate(-24 84.8 -5.5)" fill="#FEFBF6" opacity="0.75"/>
<line x1="90.3" y1="-7.4" x2="99.3" y2="-11.8" stroke="#F4E7D1" stroke-width="0.8" opacity="0.8"/>
<ellipse cx="84.8" cy="5.5" rx="7.4" ry="3.7" transform="rotate(24 84.8 5.5)" fill="#F4E6CF" opacity="0.8"/>
<ellipse cx="85.8" cy="5.0" rx="4.2" ry="1.7" transform="rotate(24 84.8 5.5)" fill="#FEFBF6" opacity="0.75"/>
<line x1="90.3" y1="7.4" x2="99.3" y2="11.8" stroke="#F4E7D1" stroke-width="0.8" opacity="0.8"/>
<ellipse cx="88.3" cy="0" rx="5.5" ry="2.2" fill="#FBF5EA" opacity="0.8"/>
<ellipse cx="93.7" cy="-5.1" rx="7.4" ry="3.5" transform="rotate(-24 93.7 -5.1)" fill="#F4E6CF" opacity="0.8"/>
<ellipse cx="94.7" cy="-4.7" rx="4.2" ry="1.6" transform="rotate(-24 93.7 -5.1)" fill="#FEFBF6" opacity="0.75"/>
<line x1="99.2" y1="-6.9" x2="108.2" y2="-11.3" stroke="#F4E7D1" stroke-width="0.8" opacity="0.8"/>
<ellipse cx="93.7" cy="5.1" rx="7.4" ry="3.5" transform="rotate(24 93.7 5.1)" fill="#F0DEC2" opacity="0.8"/>
<ellipse cx="94.7" cy="4.7" rx="4.2" ry="1.6" transform="rotate(24 93.7 5.1)" fill="#FEFBF6" opacity="0.75"/>
<line x1="99.2" y1="6.9" x2="108.2" y2="11.3" stroke="#F4E7D1" stroke-width="0.8" opacity="0.8"/>
<ellipse cx="97.2" cy="0" rx="5.5" ry="2.0" fill="#FBF5EA" opacity="0.8"/>
<ellipse cx="102.7" cy="-4.7" rx="7.4" ry="3.2" transform="rotate(-24 102.7 -4.7)" fill="#F0DEC2" opacity="0.8"/>
<ellipse cx="103.7" cy="-4.3" rx="4.2" ry="1.4" transform="rotate(-24 102.7 -4.7)" fill="#FEFBF6" opacity="0.75"/>
<line x1="108.2" y1="-6.3" x2="117.2" y2="-10.7" stroke="#F4E7D1" stroke-width="0.8" opacity="0.8"/>
<ellipse cx="102.7" cy="4.7" rx="7.4" ry="3.2" transform="rotate(24 102.7 4.7)" fill="#F4E6CF" opacity="0.8"/>
<ellipse cx="103.7" cy="4.3" rx="4.2" ry="1.4" transform="rotate(24 102.7 4.7)" fill="#FEFBF6" opacity="0.75"/>
<line x1="108.2" y1="6.3" x2="117.2" y2="10.7" stroke="#F4E7D1" stroke-width="0.8" opacity="0.8"/>
<ellipse cx="106.2" cy="0" rx="5.5" ry="1.9" fill="#FBF5EA" opacity="0.8"/>
<ellipse cx="111.6" cy="-4.2" rx="7.4" ry="2.8" transform="rotate(-24 111.6 -4.2)" fill="#F4E6CF" opacity="0.8"/>
<ellipse cx="112.6" cy="-3.8" rx="4.2" ry="1.3" transform="rotate(-24 111.6 -4.2)" fill="#FEFBF6" opacity="0.75"/>
<line x1="117.1" y1="-5.7" x2="126.1" y2="-10.1" stroke="#F4E7D1" stroke-width="0.8" opacity="0.8"/>
<ellipse cx="111.6" cy="4.2" rx="7.4" ry="2.8" transform="rotate(24 111.6 4.2)" fill="#F0DEC2" opacity="0.8"/>
<ellipse cx="112.6" cy="3.8" rx="4.2" ry="1.3" transform="rotate(24 111.6 4.2)" fill="#FEFBF6" opacity="0.75"/>
<line x1="117.1" y1="5.7" x2="126.1" y2="10.1" stroke="#F4E7D1" stroke-width="0.8" opacity="0.8"/>
<ellipse cx="115.1" cy="0" rx="5.5" ry="1.7" fill="#FBF5EA" opacity="0.8"/>
<ellipse cx="120.5" cy="-3.6" rx="7.4" ry="2.5" transform="rotate(-24 120.5 -3.6)" fill="#F0DEC2" opacity="0.8"/>
<ellipse cx="121.5" cy="-3.3" rx="4.2" ry="1.1" transform="rotate(-24 120.5 -3.6)" fill="#FEFBF6" opacity="0.75"/>
<line x1="126.0" y1="-4.9" x2="135.0" y2="-9.3" stroke="#F4E7D1" stroke-width="0.8" opacity="0.8"/>
<ellipse cx="120.5" cy="3.6" rx="7.4" ry="2.5" transform="rotate(24 120.5 3.6)" fill="#F4E6CF" opacity="0.8"/>
<ellipse cx="121.5" cy="3.3" rx="4.2" ry="1.1" transform="rotate(24 120.5 3.6)" fill="#FEFBF6" opacity="0.75"/>
<line x1="126.0" y1="4.9" x2="135.0" y2="9.3" stroke="#F4E7D1" stroke-width="0.8" opacity="0.8"/>
<ellipse cx="124.0" cy="0" rx="5.5" ry="1.5" fill="#FBF5EA" opacity="0.8"/>
<ellipse cx="129.4" cy="-3.0" rx="7.4" ry="2.1" transform="rotate(-24 129.4 -3.0)" fill="#F4E6CF" opacity="0.8"/>
<ellipse cx="130.4" cy="-2.8" rx="4.2" ry="0.9" transform="rotate(-24 129.4 -3.0)" fill="#FEFBF6" opacity="0.75"/>
<line x1="134.9" y1="-4.1" x2="143.9" y2="-8.5" stroke="#F4E7D1" stroke-width="0.8" opacity="0.8"/>
<ellipse cx="129.4" cy="3.0" rx="7.4" ry="2.1" transform="rotate(24 129.4 3.0)" fill="#F0DEC2" opacity="0.8"/>
<ellipse cx="130.4" cy="2.8" rx="4.2" ry="0.9" transform="rotate(24 129.4 3.0)" fill="#FEFBF6" opacity="0.75"/>
<line x1="134.9" y1="4.1" x2="143.9" y2="8.5" stroke="#F4E7D1" stroke-width="0.8" opacity="0.8"/>
<ellipse cx="132.9" cy="0" rx="5.5" ry="1.2" fill="#FBF5EA" opacity="0.8"/>
</g>
<g transform="translate(718,132) rotate(-121.43)">
<path d="M0,-6.1 C31.6,-12.1 88.6,-9.9 126.6,0 C88.6,9.9 31.6,12.1 0,6.1 Z" fill="#F8EEDE" opacity="0.9"/>
<ellipse cx="4.3" cy="-5.5" rx="7.4" ry="3.7" transform="rotate(-24 4.3 -5.5)" fill="#F4E6CF" opacity="0.8"/>
<ellipse cx="5.3" cy="-5.1" rx="4.2" ry="1.7" transform="rotate(-24 4.3 -5.5)" fill="#FEFBF6" opacity="0.75"/>
<line x1="9.8" y1="-7.9" x2="18.8" y2="-12.3" stroke="#F4E7D1" stroke-width="0.8" opacity="0.8"/>
<ellipse cx="4.3" cy="5.5" rx="7.4" ry="3.7" transform="rotate(24 4.3 5.5)" fill="#F0DEC2" opacity="0.8"/>
<ellipse cx="5.3" cy="5.1" rx="4.2" ry="1.7" transform="rotate(24 4.3 5.5)" fill="#FEFBF6" opacity="0.75"/>
<line x1="9.8" y1="7.9" x2="18.8" y2="12.3" stroke="#F4E7D1" stroke-width="0.8" opacity="0.8"/>
<ellipse cx="7.8" cy="0" rx="5.5" ry="2.2" fill="#FBF5EA" opacity="0.8"/>
<ellipse cx="13.0" cy="-5.5" rx="7.4" ry="3.7" transform="rotate(-24 13.0 -5.5)" fill="#F0DEC2" opacity="0.8"/>
<ellipse cx="14.0" cy="-5.0" rx="4.2" ry="1.7" transform="rotate(-24 13.0 -5.5)" fill="#FEFBF6" opacity="0.75"/>
<line x1="18.5" y1="-7.9" x2="27.5" y2="-12.3" stroke="#F4E7D1" stroke-width="0.8" opacity="0.8"/>
<ellipse cx="13.0" cy="5.5" rx="7.4" ry="3.7" transform="rotate(24 13.0 5.5)" fill="#F4E6CF" opacity="0.8"/>
<ellipse cx="14.0" cy="5.0" rx="4.2" ry="1.7" transform="rotate(24 13.0 5.5)" fill="#FEFBF6" opacity="0.75"/>
<line x1="18.5" y1="7.9" x2="27.5" y2="12.3" stroke="#F4E7D1" stroke-width="0.8" opacity="0.8"/>
<ellipse cx="16.5" cy="0" rx="5.5" ry="2.2" fill="#FBF5EA" opacity="0.8"/>
<ellipse cx="21.7" cy="-5.5" rx="7.4" ry="3.7" transform="rotate(-24 21.7 -5.5)" fill="#F4E6CF" opacity="0.8"/>
<ellipse cx="22.7" cy="-5.0" rx="4.2" ry="1.7" transform="rotate(-24 21.7 -5.5)" fill="#FEFBF6" opacity="0.75"/>
<line x1="27.2" y1="-7.8" x2="36.2" y2="-12.2" stroke="#F4E7D1" stroke-width="0.8" opacity="0.8"/>
<ellipse cx="21.7" cy="5.5" rx="7.4" ry="3.7" transform="rotate(24 21.7 5.5)" fill="#F0DEC2" opacity="0.8"/>
<ellipse cx="22.7" cy="5.0" rx="4.2" ry="1.7" transform="rotate(24 21.7 5.5)" fill="#FEFBF6" opacity="0.75"/>
<line x1="27.2" y1="7.8" x2="36.2" y2="12.2" stroke="#F4E7D1" stroke-width="0.8" opacity="0.8"/>
<ellipse cx="25.2" cy="0" rx="5.5" ry="2.2" fill="#FBF5EA" opacity="0.8"/>
<ellipse cx="30.4" cy="-5.4" rx="7.4" ry="3.7" transform="rotate(-24 30.4 -5.4)" fill="#F0DEC2" opacity="0.8"/>
<ellipse cx="31.4" cy="-5.0" rx="4.2" ry="1.7" transform="rotate(-24 30.4 -5.4)" fill="#FEFBF6" opacity="0.75"/>
<line x1="35.9" y1="-7.8" x2="44.9" y2="-12.2" stroke="#F4E7D1" stroke-width="0.8" opacity="0.8"/>
<ellipse cx="30.4" cy="5.4" rx="7.4" ry="3.7" transform="rotate(24 30.4 5.4)" fill="#F4E6CF" opacity="0.8"/>
<ellipse cx="31.4" cy="5.0" rx="4.2" ry="1.7" transform="rotate(24 30.4 5.4)" fill="#FEFBF6" opacity="0.75"/>
<line x1="35.9" y1="7.8" x2="44.9" y2="12.2" stroke="#F4E7D1" stroke-width="0.8" opacity="0.8"/>
<ellipse cx="33.9" cy="0" rx="5.5" ry="2.2" fill="#FBF5EA" opacity="0.8"/>
<ellipse cx="39.1" cy="-5.3" rx="7.4" ry="3.6" transform="rotate(-24 39.1 -5.3)" fill="#F4E6CF" opacity="0.8"/>
<ellipse cx="40.1" cy="-4.9" rx="4.2" ry="1.6" transform="rotate(-24 39.1 -5.3)" fill="#FEFBF6" opacity="0.75"/>
<line x1="44.6" y1="-7.6" x2="53.6" y2="-12.0" stroke="#F4E7D1" stroke-width="0.8" opacity="0.8"/>
<ellipse cx="39.1" cy="5.3" rx="7.4" ry="3.6" transform="rotate(24 39.1 5.3)" fill="#F0DEC2" opacity="0.8"/>
<ellipse cx="40.1" cy="4.9" rx="4.2" ry="1.6" transform="rotate(24 39.1 5.3)" fill="#FEFBF6" opacity="0.75"/>
<line x1="44.6" y1="7.6" x2="53.6" y2="12.0" stroke="#F4E7D1" stroke-width="0.8" opacity="0.8"/>
<ellipse cx="42.6" cy="0" rx="5.5" ry="2.1" fill="#FBF5EA" opacity="0.8"/>
<ellipse cx="47.7" cy="-5.2" rx="7.4" ry="3.5" transform="rotate(-24 47.7 -5.2)" fill="#F0DEC2" opacity="0.8"/>
<ellipse cx="48.7" cy="-4.8" rx="4.2" ry="1.6" transform="rotate(-24 47.7 -5.2)" fill="#FEFBF6" opacity="0.75"/>
<line x1="53.2" y1="-7.4" x2="62.2" y2="-11.8" stroke="#F4E7D1" stroke-width="0.8" opacity="0.8"/>
<ellipse cx="47.7" cy="5.2" rx="7.4" ry="3.5" transform="rotate(24 47.7 5.2)" fill="#F4E6CF" opacity="0.8"/>
<ellipse cx="48.7" cy="4.8" rx="4.2" ry="1.6" transform="rotate(24 47.7 5.2)" fill="#FEFBF6" opacity="0.75"/>
<line x1="53.2" y1="7.4" x2="62.2" y2="11.8" stroke="#F4E7D1" stroke-width="0.8" opacity="0.8"/>
<ellipse cx="51.2" cy="0" rx="5.5" ry="2.1" fill="#FBF5EA" opacity="0.8"/>
<ellipse cx="56.4" cy="-5.0" rx="7.4" ry="3.4" transform="rotate(-24 56.4 -5.0)" fill="#F4E6CF" opacity="0.8"/>
<ellipse cx="57.4" cy="-4.6" rx="4.2" ry="1.5" transform="rotate(-24 56.4 -5.0)" fill="#FEFBF6" opacity="0.75"/>
<line x1="61.9" y1="-7.2" x2="70.9" y2="-11.6" stroke="#F4E7D1" stroke-width="0.8" opacity="0.8"/>
<ellipse cx="56.4" cy="5.0" rx="7.4" ry="3.4" transform="rotate(24 56.4 5.0)" fill="#F0DEC2" opacity="0.8"/>
<ellipse cx="57.4" cy="4.6" rx="4.2" ry="1.5" transform="rotate(24 56.4 5.0)" fill="#FEFBF6" opacity="0.75"/>
<line x1="61.9" y1="7.2" x2="70.9" y2="11.6" stroke="#F4E7D1" stroke-width="0.8" opacity="0.8"/>
<ellipse cx="59.9" cy="0" rx="5.5" ry="2.0" fill="#FBF5EA" opacity="0.8"/>
<ellipse cx="65.1" cy="-4.8" rx="7.4" ry="3.3" transform="rotate(-24 65.1 -4.8)" fill="#F0DEC2" opacity="0.8"/>
<ellipse cx="66.1" cy="-4.4" rx="4.2" ry="1.5" transform="rotate(-24 65.1 -4.8)" fill="#FEFBF6" opacity="0.75"/>
<line x1="70.6" y1="-6.9" x2="79.6" y2="-11.3" stroke="#F4E7D1" stroke-width="0.8" opacity="0.8"/>
<ellipse cx="65.1" cy="4.8" rx="7.4" ry="3.3" transform="rotate(24 65.1 4.8)" fill="#F4E6CF" opacity="0.8"/>
<ellipse cx="66.1" cy="4.4" rx="4.2" ry="1.5" transform="rotate(24 65.1 4.8)" fill="#FEFBF6" opacity="0.75"/>
<line x1="70.6" y1="6.9" x2="79.6" y2="11.3" stroke="#F4E7D1" stroke-width="0.8" opacity="0.8"/>
<ellipse cx="68.6" cy="0" rx="5.5" ry="1.9" fill="#FBF5EA" opacity="0.8"/>
<ellipse cx="73.8" cy="-4.6" rx="7.4" ry="3.1" transform="rotate(-24 73.8 -4.6)" fill="#F4E6CF" opacity="0.8"/>
<ellipse cx="74.8" cy="-4.2" rx="4.2" ry="1.4" transform="rotate(-24 73.8 -4.6)" fill="#FEFBF6" opacity="0.75"/>
<line x1="79.3" y1="-6.5" x2="88.3" y2="-10.9" stroke="#F4E7D1" stroke-width="0.8" opacity="0.8"/>
<ellipse cx="73.8" cy="4.6" rx="7.4" ry="3.1" transform="rotate(24 73.8 4.6)" fill="#F0DEC2" opacity="0.8"/>
<ellipse cx="74.8" cy="4.2" rx="4.2" ry="1.4" transform="rotate(24 73.8 4.6)" fill="#FEFBF6" opacity="0.75"/>
<line x1="79.3" y1="6.5" x2="88.3" y2="10.9" stroke="#F4E7D1" stroke-width="0.8" opacity="0.8"/>
<ellipse cx="77.3" cy="0" rx="5.5" ry="1.8" fill="#FBF5EA" opacity="0.8"/>
<ellipse cx="82.5" cy="-4.2" rx="7.4" ry="2.9" transform="rotate(-24 82.5 -4.2)" fill="#F0DEC2" opacity="0.8"/>
<ellipse cx="83.5" cy="-3.9" rx="4.2" ry="1.3" transform="rotate(-24 82.5 -4.2)" fill="#FEFBF6" opacity="0.75"/>
<line x1="88.0" y1="-6.1" x2="97.0" y2="-10.5" stroke="#F4E7D1" stroke-width="0.8" opacity="0.8"/>
<ellipse cx="82.5" cy="4.2" rx="7.4" ry="2.9" transform="rotate(24 82.5 4.2)" fill="#F4E6CF" opacity="0.8"/>
<ellipse cx="83.5" cy="3.9" rx="4.2" ry="1.3" transform="rotate(24 82.5 4.2)" fill="#FEFBF6" opacity="0.75"/>
<line x1="88.0" y1="6.1" x2="97.0" y2="10.5" stroke="#F4E7D1" stroke-width="0.8" opacity="0.8"/>
<ellipse cx="86.0" cy="0" rx="5.5" ry="1.7" fill="#FBF5EA" opacity="0.8"/>
<ellipse cx="91.1" cy="-3.9" rx="7.4" ry="2.6" transform="rotate(-24 91.1 -3.9)" fill="#F4E6CF" opacity="0.8"/>
<ellipse cx="92.1" cy="-3.6" rx="4.2" ry="1.2" transform="rotate(-24 91.1 -3.9)" fill="#FEFBF6" opacity="0.75"/>
<line x1="96.6" y1="-5.6" x2="105.6" y2="-10.0" stroke="#F4E7D1" stroke-width="0.8" opacity="0.8"/>
<ellipse cx="91.1" cy="3.9" rx="7.4" ry="2.6" transform="rotate(24 91.1 3.9)" fill="#F0DEC2" opacity="0.8"/>
<ellipse cx="92.1" cy="3.6" rx="4.2" ry="1.2" transform="rotate(24 91.1 3.9)" fill="#FEFBF6" opacity="0.75"/>
<line x1="96.6" y1="5.6" x2="105.6" y2="10.0" stroke="#F4E7D1" stroke-width="0.8" opacity="0.8"/>
<ellipse cx="94.6" cy="0" rx="5.5" ry="1.6" fill="#FBF5EA" opacity="0.8"/>
<ellipse cx="99.8" cy="-3.5" rx="7.4" ry="2.4" transform="rotate(-24 99.8 -3.5)" fill="#F0DEC2" opacity="0.8"/>
<ellipse cx="100.8" cy="-3.2" rx="4.2" ry="1.1" transform="rotate(-24 99.8 -3.5)" fill="#FEFBF6" opacity="0.75"/>
<line x1="105.3" y1="-5.0" x2="114.3" y2="-9.4" stroke="#F4E7D1" stroke-width="0.8" opacity="0.8"/>
<ellipse cx="99.8" cy="3.5" rx="7.4" ry="2.4" transform="rotate(24 99.8 3.5)" fill="#F4E6CF" opacity="0.8"/>
<ellipse cx="100.8" cy="3.2" rx="4.2" ry="1.1" transform="rotate(24 99.8 3.5)" fill="#FEFBF6" opacity="0.75"/>
<line x1="105.3" y1="5.0" x2="114.3" y2="9.4" stroke="#F4E7D1" stroke-width="0.8" opacity="0.8"/>
<ellipse cx="103.3" cy="0" rx="5.5" ry="1.4" fill="#FBF5EA" opacity="0.8"/>
<ellipse cx="108.5" cy="-3.0" rx="7.4" ry="2.0" transform="rotate(-24 108.5 -3.0)" fill="#F4E6CF" opacity="0.8"/>
<ellipse cx="109.5" cy="-2.8" rx="4.2" ry="0.9" transform="rotate(-24 108.5 -3.0)" fill="#FEFBF6" opacity="0.75"/>
<line x1="114.0" y1="-4.3" x2="123.0" y2="-8.7" stroke="#F4E7D1" stroke-width="0.8" opacity="0.8"/>
<ellipse cx="108.5" cy="3.0" rx="7.4" ry="2.0" transform="rotate(24 108.5 3.0)" fill="#F0DEC2" opacity="0.8"/>
<ellipse cx="109.5" cy="2.8" rx="4.2" ry="0.9" transform="rotate(24 108.5 3.0)" fill="#FEFBF6" opacity="0.75"/>
<line x1="114.0" y1="4.3" x2="123.0" y2="8.7" stroke="#F4E7D1" stroke-width="0.8" opacity="0.8"/>
<ellipse cx="112.0" cy="0" rx="5.5" ry="1.2" fill="#FBF5EA" opacity="0.8"/>
<ellipse cx="117.2" cy="-2.5" rx="7.4" ry="1.7" transform="rotate(-24 117.2 -2.5)" fill="#F0DEC2" opacity="0.8"/>
<ellipse cx="118.2" cy="-2.3" rx="4.2" ry="0.8" transform="rotate(-24 117.2 -2.5)" fill="#FEFBF6" opacity="0.75"/>
<line x1="122.7" y1="-3.6" x2="131.7" y2="-8.0" stroke="#F4E7D1" stroke-width="0.8" opacity="0.8"/>
<ellipse cx="117.2" cy="2.5" rx="7.4" ry="1.7" transform="rotate(24 117.2 2.5)" fill="#F4E6CF" opacity="0.8"/>
<ellipse cx="118.2" cy="2.3" rx="4.2" ry="0.8" transform="rotate(24 117.2 2.5)" fill="#FEFBF6" opacity="0.75"/>
<line x1="122.7" y1="3.6" x2="131.7" y2="8.0" stroke="#F4E7D1" stroke-width="0.8" opacity="0.8"/>
<ellipse cx="120.7" cy="0" rx="5.5" ry="1.0" fill="#FBF5EA" opacity="0.8"/>
</g>
</g>
<g fill="#F2F2F2" stroke="#F2F2F2" stroke-width="1.2" stroke-linejoin="round">
<polygon points="386,356 392,346 404,342 416,344 428,342 440,338 448,326 458,316 468,312 474,322 470,334 476,340 470,350 464,352 462,362 470,366 478,360 486,366 492,374 488,382 478,388 470,394 466,402 462,410 462,416 458,410 450,408 444,412 446,420 452,420 454,424 460,428 466,432 462,433 452,427 444,422 436,416 430,408 424,398 418,388 414,378 412,368 408,362 398,360 390,362"/>
<polygon points="450,300 458,294 470,290 486,289 500,291 505,296 500,304 496,314 492,324 486,334 482,339 476,334 472,324 466,316 456,310"/>
<polygon points="460,428 468,425 478,428 488,434 496,440 499,447 496,456 490,464 486,474 480,482 476,490 473,494 470,488 468,476 465,464 461,452 458,442"/>
<polygon points="524,396 524,388 530,382 534,376 541,370 538,362 540,350 546,340 554,336 558,340 556,350 552,360 556,364 562,344 572,342 578,350 590,344 600,338 612,332 623,323 632,330 640,337 655,342 668,346 682,350 698,357 690,362 680,364 676,372 672,381 670,370 664,368 656,373 652,378 657,388 660,394 660,404 656,412 650,418 652,428 646,432 640,426 638,436 642,444 637,440 634,430 630,420 624,416 618,422 614,428 610,420 606,410 598,408 590,406 594,414 590,424 584,428 580,420 576,410 574,402 570,398 562,396 556,394 552,398 548,394 544,398 540,392 534,394 530,400"/>
<polygon points="527,368 531,366 533,374 529,378"/>
<polygon points="511,352 517,351 517,355 512,356"/>
<polygon points="671,376 676,374 678,384 674,390 671,386"/>
<polygon points="527,408 532,402 542,400 552,400 560,403 568,402 574,406 578,416 582,424 580,428 574,432 570,440 568,450 562,462 557,474 552,470 549,458 547,446 544,436 536,432 530,426 526,416"/>
<polygon points="581,457 584,455 584,465 581,469"/>
<polygon points="637,442 646,446 656,452 654,456 644,452"/>
<polygon points="658,440 666,438 668,446 660,448"/>
<polygon points="672,448 682,450 686,456 676,454"/>
<polygon points="668,420 672,418 673,428 669,430"/>
<polygon points="636,456 642,450 650,448 656,446 660,450 666,448 670,456 672,464 668,472 660,474 652,470 644,470 637,466"/>
<polygon points="688,478 692,476 692,484 688,487"/>
</g>
<text x="28.40" y="42.30" font-size="25.7" font-weight="700" fill="#1F5279" textLength="197.00" lengthAdjust="spacingAndGlyphs" stroke="#FFFFFF" stroke-width="0.2">РЕЗУЛЬТАТИ</text>
<text x="234.30" y="42.30" font-size="25.7" font-weight="700" fill="#1F5279" textLength="124.50" lengthAdjust="spacingAndGlyphs" stroke="#FFFFFF" stroke-width="0.2">РОБОТИ</text>
<text x="27.90" y="72.70" font-size="25.7" font-weight="700" fill="#1F5279" textLength="199.70" lengthAdjust="spacingAndGlyphs" stroke="#FFFFFF" stroke-width="0.2">«ЗЕРНОВОГО</text>
<text x="238.40" y="72.70" font-size="25.7" font-weight="700" fill="#1F5279" textLength="180.80" lengthAdjust="spacingAndGlyphs" stroke="#FFFFFF" stroke-width="0.2">КОРИДОРУ»</text>
<rect x="29" y="95" width="185" height="34" fill="#F26C2D"/>
<text x="37.00" y="116.70" font-size="13.8" font-weight="700" fill="#FFFFFF" textLength="166.60" lengthAdjust="spacingAndGlyphs">за 6-12 березня 2023 р.</text>
<g transform="translate(30,145) scale(0.142857)">
<rect x="200" y="100" width="65" height="30" fill="#1F5279"/>
<rect x="280" y="100" width="100" height="30" fill="#1F5279"/>
<rect x="167" y="150" width="48" height="46" fill="#1F5279"/>
<rect x="232" y="150" width="50" height="46" fill="#1F5279"/>
<rect x="297" y="150" width="33" height="46" fill="#1F5279"/>
<rect x="345" y="150" width="67" height="46" fill="#1F5279"/>
<polygon points="167,214 215,214 215,259.4 167,270.6" fill="#1F5279"/>
<polygon points="232,214 282,214 282,243.9 232,255.5" fill="#1F5279"/>
<polygon points="297,214 330,214 330,251.3 297,243.6" fill="#1F5279"/>
<polygon points="345,214 412,214 412,270.3 345,254.8" fill="#1F5279"/>
<polygon points="290,262 447,298 400,425 180,425 133,298" fill="#1F5279"/>
<rect x="284" y="295" width="12" height="120" rx="6" fill="#fff"/>
<path d="M106.0,408.5 L112.0,414.2 L118.0,419.8 L124.0,424.4 L130.0,427.2 L136.0,428.0 L142.0,426.5 L148.0,423.0 L154.0,418.0 L160.0,412.3 L166.0,406.6 L172.0,402.0 L178.0,398.9 L184.0,398.0 L190.0,399.3 L196.0,402.7 L202.0,407.5 L208.0,413.2 L214.0,418.9 L220.0,423.7 L226.0,426.9 L232.0,428.0 L238.0,426.9 L244.0,423.7 L250.0,418.9 L256.0,413.2 L262.0,407.5 L268.0,402.7 L274.0,399.3 L280.0,398.0 L286.0,398.9 L292.0,402.0 L298.0,406.6 L304.0,412.3 L310.0,418.0 L316.0,423.0 L322.0,426.5 L328.0,428.0 L334.0,427.2 L340.0,424.4 L346.0,419.8 L352.0,414.2 L358.0,408.5 L364.0,403.4 L370.0,399.7 L376.0,398.1 L382.0,398.6 L388.0,401.3 L394.0,405.8 L400.0,411.3 L406.0,417.1 L412.0,422.2 L418.0,426.0 L424.0,427.9 L430.0,427.5 L436.0,425.0 L442.0,420.6 L448.0,415.2 L454.0,409.4 L460.0,404.1 L466.0,400.2" fill="none" stroke="#fff" stroke-width="34" stroke-linecap="butt"/>
<rect x="100" y="428" width="380" height="50" fill="#fff"/>
<path d="M106.0,408.5 L112.0,414.2 L118.0,419.8 L124.0,424.4 L130.0,427.2 L136.0,428.0 L142.0,426.5 L148.0,423.0 L154.0,418.0 L160.0,412.3 L166.0,406.6 L172.0,402.0 L178.0,398.9 L184.0,398.0 L190.0,399.3 L196.0,402.7 L202.0,407.5 L208.0,413.2 L214.0,418.9 L220.0,423.7 L226.0,426.9 L232.0,428.0 L238.0,426.9 L244.0,423.7 L250.0,418.9 L256.0,413.2 L262.0,407.5 L268.0,402.7 L274.0,399.3 L280.0,398.0 L286.0,398.9 L292.0,402.0 L298.0,406.6 L304.0,412.3 L310.0,418.0 L316.0,423.0 L322.0,426.5 L328.0,428.0 L334.0,427.2 L340.0,424.4 L346.0,419.8 L352.0,414.2 L358.0,408.5 L364.0,403.4 L370.0,399.7 L376.0,398.1 L382.0,398.6 L388.0,401.3 L394.0,405.8 L400.0,411.3 L406.0,417.1 L412.0,422.2 L418.0,426.0 L424.0,427.9 L430.0,427.5 L436.0,425.0 L442.0,420.6 L448.0,415.2 L454.0,409.4 L460.0,404.1 L466.0,400.2" fill="none" stroke="#1F5279" stroke-width="15" stroke-linecap="round" stroke-linejoin="round"/>
<path d="M106.0,442.5 L112.0,448.2 L118.0,453.8 L124.0,458.4 L130.0,461.2 L136.0,462.0 L142.0,460.5 L148.0,457.0 L154.0,452.0 L160.0,446.3 L166.0,440.6 L172.0,436.0 L178.0,432.9 L184.0,432.0 L190.0,433.3 L196.0,436.7 L202.0,441.5 L208.0,447.2 L214.0,452.9 L220.0,457.7 L226.0,460.9 L232.0,462.0 L238.0,460.9 L244.0,457.7 L250.0,452.9 L256.0,447.2 L262.0,441.5 L268.0,436.7 L274.0,433.3 L280.0,432.0 L286.0,432.9 L292.0,436.0 L298.0,440.6 L304.0,446.3 L310.0,452.0 L316.0,457.0 L322.0,460.5 L328.0,462.0 L334.0,461.2 L340.0,458.4 L346.0,453.8 L352.0,448.2 L358.0,442.5 L364.0,437.4 L370.0,433.7 L376.0,432.1 L382.0,432.6 L388.0,435.3 L394.0,439.8 L400.0,445.3 L406.0,451.1 L412.0,456.2 L418.0,460.0 L424.0,461.9 L430.0,461.5 L436.0,459.0 L442.0,454.6 L448.0,449.2 L454.0,443.4 L460.0,438.1 L466.0,434.2" fill="none" stroke="#1F5279" stroke-width="15" stroke-linecap="round" stroke-linejoin="round"/>
</g>
<text x="112.60" y="179.70" font-size="16.5" font-weight="700" fill="#F26C2D" textLength="18.00" lengthAdjust="spacingAndGlyphs">16</text>
<text x="136.40" y="179.70" font-size="16.5" font-weight="700" fill="#1F5279" textLength="55.20" lengthAdjust="spacingAndGlyphs">суден</text>
<text x="197.50" y="179.70" font-size="16.5" font-weight="400" fill="#37678F" textLength="115.80" lengthAdjust="spacingAndGlyphs">відправлено</text>
<g transform="translate(111.9,190.6) scale(1.0000)">
<rect x="0" y="0" width="16.9" height="16.9" rx="4.6" fill="#F26C2D"/>
<polygon points="4.07,5.02 8.57,2.44 10.72,6.43 13.72,5.44 12.09,12.60 4.93,11.14 6.64,9.73" fill="#fff"/>
</g>
<text x="132.50" y="204.40" font-size="16.5" font-weight="700" fill="#1F5279" textLength="43.70" lengthAdjust="spacingAndGlyphs">-20%</text>
<text x="180.20" y="204.40" font-size="16.5" font-weight="400" fill="#37678F" textLength="102.80" lengthAdjust="spacingAndGlyphs">за тиждень</text>
<g transform="translate(360,150) scale(0.142857)">
<line x1="20" y1="430" x2="68" y2="385" stroke="#1F5279" stroke-width="22" stroke-linecap="round"/>
<path transform="translate(77,289) rotate(-74)" d="M-60,0 C-27.0,-41.2 27.0,-41.2 60,0 C27.0,41.2 -27.0,41.2 -60,0 Z" fill="#1F5279"/>
<path transform="translate(143,225) rotate(-74)" d="M-60,0 C-27.0,-41.2 27.0,-41.2 60,0 C27.0,41.2 -27.0,41.2 -60,0 Z" fill="#1F5279"/>
<path transform="translate(211,154) rotate(-70)" d="M-63,0 C-28.4,-41.2 28.4,-41.2 63,0 C28.4,41.2 -28.4,41.2 -63,0 Z" fill="#1F5279"/>
<path transform="translate(148,366) rotate(-17)" d="M-70,0 C-31.5,-38.6 31.5,-38.6 70,0 C31.5,38.6 -31.5,38.6 -70,0 Z" fill="#1F5279"/>
<path transform="translate(216,300) rotate(-19)" d="M-68,0 C-30.6,-38.6 30.6,-38.6 68,0 C30.6,38.6 -30.6,38.6 -68,0 Z" fill="#1F5279"/>
<path transform="translate(284,233) rotate(-21)" d="M-66,0 C-29.7,-38.6 29.7,-38.6 66,0 C29.7,38.6 -29.7,38.6 -66,0 Z" fill="#1F5279"/>
<path transform="translate(310,138) rotate(-46)" d="M-66,0 C-29.7,-39.9 29.7,-39.9 66,0 C29.7,39.9 -29.7,39.9 -66,0 Z" fill="#1F5279"/>
<line x1="236" y1="104" x2="257" y2="74" stroke="#1F5279" stroke-width="13" stroke-linecap="round"/>
<line x1="345" y1="218" x2="376" y2="190" stroke="#1F5279" stroke-width="13" stroke-linecap="round"/>
</g>
<text x="429.60" y="179.70" font-size="16.5" font-weight="700" fill="#F26C2D" textLength="32.90" lengthAdjust="spacingAndGlyphs">654</text>
<text x="467.00" y="179.70" font-size="16.5" font-weight="700" fill="#1F5279" textLength="51.80" lengthAdjust="spacingAndGlyphs">тис. т</text>
<text x="524.00" y="179.70" font-size="16.5" font-weight="400" fill="#37678F" textLength="86.60" lengthAdjust="spacingAndGlyphs">вивезено</text>
<g transform="translate(428.8,190.2) scale(1.0000)">
<rect x="0" y="0" width="16.9" height="16.9" rx="4.6" fill="#F26C2D"/>
<polygon points="4.07,5.02 8.57,2.44 10.72,6.43 13.72,5.44 12.09,12.60 4.93,11.14 6.64,9.73" fill="#fff"/>
</g>
<text x="452.00" y="204.40" font-size="16.5" font-weight="700" fill="#1F5279" textLength="42.00" lengthAdjust="spacingAndGlyphs">-36%</text>
<text x="499.80" y="204.40" font-size="16.5" font-weight="400" fill="#37678F" textLength="102.20" lengthAdjust="spacingAndGlyphs">за тиждень</text>
<path d="M226.70,261.60 A100.8,100.8 0 0 1 231.54,463.08 L229.12,412.64 A50.3,50.3 0 0 0 226.70,312.10 Z" fill="#0097A7" stroke="#0097A7" stroke-width="0.4"/>
<path d="M231.54,463.08 A100.8,100.8 0 0 1 131.08,394.28 L178.98,378.31 A50.3,50.3 0 0 0 229.12,412.64 Z" fill="#92C9E7" stroke="#92C9E7" stroke-width="0.4"/>
<path d="M131.08,394.28 A100.8,100.8 0 0 1 133.43,324.16 L180.16,343.32 A50.3,50.3 0 0 0 178.98,378.31 Z" fill="#4A8FE2" stroke="#4A8FE2" stroke-width="0.4"/>
<path d="M133.43,324.16 A100.8,100.8 0 0 1 162.40,284.77 L194.62,323.66 A50.3,50.3 0 0 0 180.16,343.32 Z" fill="#FFB50B" stroke="#FFB50B" stroke-width="0.4"/>
<path d="M162.40,284.77 A100.8,100.8 0 0 1 205.55,263.84 L216.15,313.22 A50.3,50.3 0 0 0 194.62,323.66 Z" fill="#8B3FD8" stroke="#8B3FD8" stroke-width="0.4"/>
<path d="M205.55,263.84 A100.8,100.8 0 0 1 219.93,261.83 L223.32,312.21 A50.3,50.3 0 0 0 216.15,313.22 Z" fill="#93B2B7" stroke="#93B2B7" stroke-width="0.4"/>
<path d="M219.93,261.83 A100.8,100.8 0 0 1 226.70,261.60 L226.70,312.10 A50.3,50.3 0 0 0 223.32,312.21 Z" fill="#B7DADF" stroke="#B7DADF" stroke-width="0.4"/>
<text x="291.21" y="356.20" font-size="11.2" font-weight="700" fill="#FFFFFF" textLength="20.18" lengthAdjust="spacingAndGlyphs">322</text>
<text x="166.21" y="424.80" font-size="11.2" font-weight="700" fill="#FFFFFF" textLength="20.18" lengthAdjust="spacingAndGlyphs">135</text>
<text x="142.37" y="363.30" font-size="11.2" font-weight="700" fill="#FFFFFF" textLength="13.45" lengthAdjust="spacingAndGlyphs">74</text>
<text x="158.17" y="321.40" font-size="11.2" font-weight="700" fill="#FFFFFF" textLength="13.45" lengthAdjust="spacingAndGlyphs">51</text>
<text x="185.27" y="294.90" font-size="11.2" font-weight="700" fill="#FFFFFF" textLength="13.45" lengthAdjust="spacingAndGlyphs">50</text>
<text x="207.27" y="285.40" font-size="11.2" font-weight="700" fill="#FFFFFF" textLength="13.45" lengthAdjust="spacingAndGlyphs">15</text>
<text x="220.54" y="274.90" font-size="11.2" font-weight="700" fill="#FFFFFF" textLength="6.73" lengthAdjust="spacingAndGlyphs">7</text>
<text x="189.30" y="354.00" font-size="13.3" font-weight="700" fill="#1F5279" textLength="80.50" lengthAdjust="spacingAndGlyphs">СТРУКТУРА</text>
<text x="189.30" y="366.40" font-size="13.3" font-weight="700" fill="#1F5279" textLength="78.10" lengthAdjust="spacingAndGlyphs">ЕКСПОРТУ,</text>
<text x="189.30" y="379.00" font-size="13.3" font-weight="700" fill="#1F5279" textLength="37.60" lengthAdjust="spacingAndGlyphs">тис. т</text>
<text x="121.20" y="247.80" font-size="11.3" font-weight="700" fill="#1F5279" textLength="48.60" lengthAdjust="spacingAndGlyphs">Насіння</text>
<text x="121.20" y="259.50" font-size="11.3" font-weight="700" fill="#1F5279" textLength="69.80" lengthAdjust="spacingAndGlyphs">соняшнику</text>
<text x="246.00" y="254.50" font-size="11.3" font-weight="700" fill="#1F5279" textLength="33.40" lengthAdjust="spacingAndGlyphs">Ріпак</text>
<text x="63.40" y="265.50" font-size="11.3" font-weight="700" fill="#1F5279" textLength="27.00" lengthAdjust="spacingAndGlyphs">Олія</text>
<text x="63.40" y="277.00" font-size="11.3" font-weight="700" fill="#1F5279" textLength="84.00" lengthAdjust="spacingAndGlyphs">соняшникова</text>
<text x="78.30" y="304.90" font-size="11.3" font-weight="700" fill="#1F5279" textLength="42.90" lengthAdjust="spacingAndGlyphs">Ячмінь</text>
<text x="71.80" y="364.90" font-size="11.3" font-weight="700" fill="#1F5279" textLength="22.20" lengthAdjust="spacingAndGlyphs">Соя</text>
<text x="56.80" y="435.80" font-size="11.3" font-weight="700" fill="#1F5279" textLength="58.40" lengthAdjust="spacingAndGlyphs">Пшениця</text>
<text x="335.40" y="310.90" font-size="11.3" font-weight="700" fill="#1F5279" textLength="64.10" lengthAdjust="spacingAndGlyphs">Кукурудза</text>
<g fill="none" stroke="#3F6A90" stroke-width="0.8">
<rect x="194.6" y="241.3" width="12" height="15.2" rx="0.8"/>
<line x1="194.6" y1="242.4" x2="206.6" y2="242.4" stroke-width="1.3"/>
<circle cx="200.5" cy="247.4" r="2.7" stroke-width="1.9" stroke="#5C83A6"/>
<circle cx="200.5" cy="247.4" r="1.0" stroke="none" fill="#A9BFD2"/>
<rect x="196.3" y="252.3" width="8.2" height="2.3" rx="0.5"/>
</g>
<g fill="#3F6A90" stroke="none">
<circle cx="233.1" cy="249.9" r="0.73"/>
<circle cx="233.6" cy="249.3" r="0.73"/>
<circle cx="237.1" cy="245.4" r="0.89"/>
<circle cx="233.7" cy="252.7" r="0.67"/>
<circle cx="233.7" cy="249.7" r="0.65"/>
<circle cx="237.3" cy="245.6" r="0.91"/>
<circle cx="233.6" cy="245.9" r="0.69"/>
<circle cx="229.9" cy="244.3" r="0.93"/>
<circle cx="233.9" cy="247.2" r="0.82"/>
<circle cx="231.3" cy="244.3" r="0.63"/>
<circle cx="231.7" cy="248.5" r="0.97"/>
<circle cx="235.5" cy="244.8" r="0.69"/>
<circle cx="236.2" cy="245.6" r="0.95"/>
<circle cx="235.1" cy="244.6" r="0.74"/>
<circle cx="230.4" cy="245.9" r="0.62"/>
<circle cx="231.4" cy="253.7" r="0.57"/>
<circle cx="236.9" cy="249.6" r="0.68"/>
<circle cx="229.6" cy="247.3" r="0.70"/>
<circle cx="235.0" cy="248.2" r="0.74"/>
<circle cx="234.2" cy="253.0" r="0.67"/>
<circle cx="230.2" cy="252.6" r="0.69"/>
<circle cx="228.3" cy="246.0" r="0.60"/>
<circle cx="235.1" cy="249.2" r="0.89"/>
<circle cx="231.3" cy="246.4" r="0.70"/>
<circle cx="234.5" cy="251.9" r="0.57"/>
<circle cx="231.4" cy="242.4" r="0.98"/>
<circle cx="232.5" cy="241.8" r="0.56"/>
<circle cx="231.7" cy="254.5" r="0.90"/>
<circle cx="228.6" cy="251.6" r="0.83"/>
<circle cx="234.1" cy="245.3" r="0.64"/>
<circle cx="231.5" cy="248.9" r="0.72"/>
<circle cx="235.7" cy="247.4" r="0.55"/>
<circle cx="234.8" cy="248.8" r="0.90"/>
<circle cx="231.3" cy="250.6" r="0.59"/>
<circle cx="236.2" cy="247.7" r="0.64"/>
<circle cx="233.9" cy="248.6" r="0.63"/>
<circle cx="232.2" cy="246.3" r="0.57"/>
<circle cx="230.7" cy="248.4" r="1.00"/>
<circle cx="235.7" cy="251.3" r="0.90"/>
<circle cx="228.5" cy="251.7" r="0.76"/>
<circle cx="233.2" cy="252.1" r="0.57"/>
<circle cx="230.9" cy="249.6" r="0.95"/>
<circle cx="234.7" cy="244.4" r="0.56"/>
<circle cx="232.9" cy="251.0" r="0.64"/>
<circle cx="233.6" cy="254.2" r="0.61"/>
<circle cx="237.9" cy="250.2" r="0.80"/>
<circle cx="236.1" cy="248.0" r="0.96"/>
<circle cx="230.3" cy="243.5" r="0.89"/>
<circle cx="231.7" cy="248.3" r="0.64"/>
<circle cx="236.6" cy="243.8" r="0.97"/>
<circle cx="230.8" cy="252.6" r="0.91"/>
<circle cx="230.0" cy="243.6" r="0.79"/>
<circle cx="230.6" cy="243.9" r="0.67"/>
<circle cx="237.7" cy="245.2" r="0.58"/>
<circle cx="238.2" cy="247.0" r="0.85"/>
<circle cx="237.9" cy="249.9" r="0.61"/>
<circle cx="237.2" cy="247.2" r="0.58"/>
<circle cx="235.0" cy="252.6" r="0.81"/>
<circle cx="232.9" cy="241.9" r="0.65"/>
<circle cx="238.1" cy="248.3" r="0.56"/>
<circle cx="234.1" cy="246.9" r="0.91"/>
<circle cx="234.0" cy="242.2" r="0.80"/>
<circle cx="234.5" cy="246.5" r="0.85"/>
<circle cx="230.6" cy="253.6" r="0.90"/>
<circle cx="229.4" cy="249.0" r="0.56"/>
<circle cx="236.9" cy="249.2" r="0.77"/>
<circle cx="235.6" cy="244.5" r="0.61"/>
<circle cx="230.0" cy="252.5" r="0.79"/>
<circle cx="237.8" cy="248.6" r="0.92"/>
<circle cx="236.2" cy="250.5" r="0.72"/>
<circle cx="233.6" cy="245.0" r="0.66"/>
<circle cx="227.7" cy="248.7" r="0.59"/>
<circle cx="236.1" cy="251.5" r="0.95"/>
<circle cx="229.7" cy="247.9" r="0.94"/>
<circle cx="233.2" cy="246.9" r="0.95"/>
<circle cx="233.9" cy="251.2" r="0.93"/>
<circle cx="228.8" cy="250.9" r="0.63"/>
<circle cx="234.3" cy="246.5" r="0.62"/>
<circle cx="230.2" cy="248.3" r="0.79"/>
<circle cx="236.6" cy="245.2" r="0.55"/>
<circle cx="239.4" cy="249.4" r="0.5"/><circle cx="226.6" cy="252.6" r="0.5"/>
</g>
<path d="M233,250 L233,256.5 M226.3,256.8 L240,256.8 M226.5,258 L239.8,258" fill="none" stroke="#3F6A90" stroke-width="0.8"/>
<g>
<rect x="156.0" y="259.5" width="4.6" height="3.4" rx="0.5" fill="#5F84A6"/>
<rect x="152.8" y="262.6" width="11.0" height="15.0" rx="1.4" fill="#6F91AF"/>
<rect x="154.7" y="264.3" width="7.2" height="10.4" rx="0.6" fill="#8BA7C0"/>
<circle cx="158.3" cy="269.3" r="2.9" fill="#6A8DAC"/>
<circle cx="158.3" cy="269.0" r="1.3" fill="#9DB5CA"/>
<path d="M156.3,270.6 Q158.3,272.4 160.3,270.6" fill="none" stroke="#C9D8E4" stroke-width="0.6"/>
<rect x="154.4" y="275.3" width="8.0" height="0.9" fill="#E3EBF2"/>
<circle cx="154.5" cy="264.4" r="0.5" fill="#EEF3F7"/><circle cx="162.2" cy="264.4" r="0.5" fill="#EEF3F7"/>
<rect x="156.8" y="260.4" width="3.0" height="0.6" fill="#C9D8E4"/>
</g>
<g transform="translate(124.8,309.0) rotate(-44.3)" fill="none" stroke="#3F6A90" stroke-width="0.8" stroke-linecap="round" stroke-linejoin="round">
<path d="M0,0 L3.25,0"/>
<path transform="translate(5.08,-2.34) rotate(-27)" d="M-3.25,0 Q0,-3.15 3.25,0 Q0,3.15 -3.25,0 Z"/>
<path transform="translate(5.08,2.34) rotate(27)" d="M-3.25,0 Q0,-3.15 3.25,0 Q0,3.15 -3.25,0 Z"/>
<path transform="translate(9.45,-2.34) rotate(-27)" d="M-3.25,0 Q0,-3.15 3.25,0 Q0,3.15 -3.25,0 Z"/>
<path transform="translate(9.45,2.34) rotate(27)" d="M-3.25,0 Q0,-3.15 3.25,0 Q0,3.15 -3.25,0 Z"/>
<path transform="translate(13.81,-2.34) rotate(-27)" d="M-3.25,0 Q0,-3.15 3.25,0 Q0,3.15 -3.25,0 Z"/>
<path transform="translate(13.81,2.34) rotate(27)" d="M-3.25,0 Q0,-3.15 3.25,0 Q0,3.15 -3.25,0 Z"/>
<path transform="translate(18.89,0.00) rotate(0)" d="M-3.35,0 Q0,-3.05 3.35,0 Q0,3.05 -3.35,0 Z"/>
<path d="M3.25,0 L15.74,0" stroke-width="0.56"/>
</g>
<g transform="translate(121.2,440.2) rotate(-45.0)" fill="none" stroke="#3F6A90" stroke-width="0.8" stroke-linecap="round" stroke-linejoin="round">
<path d="M0,0 L3.13,0"/>
<path transform="translate(4.89,-2.25) rotate(-27)" d="M-3.13,0 Q0,-3.03 3.13,0 Q0,3.03 -3.13,0 Z"/>
<path transform="translate(4.89,2.25) rotate(27)" d="M-3.13,0 Q0,-3.03 3.13,0 Q0,3.03 -3.13,0 Z"/>
<path transform="translate(9.09,-2.25) rotate(-27)" d="M-3.13,0 Q0,-3.03 3.13,0 Q0,3.03 -3.13,0 Z"/>
<path transform="translate(9.09,2.25) rotate(27)" d="M-3.13,0 Q0,-3.03 3.13,0 Q0,3.03 -3.13,0 Z"/>
<path transform="translate(13.29,-2.25) rotate(-27)" d="M-3.13,0 Q0,-3.03 3.13,0 Q0,3.03 -3.13,0 Z"/>
<path transform="translate(13.29,2.25) rotate(27)" d="M-3.13,0 Q0,-3.03 3.13,0 Q0,3.03 -3.13,0 Z"/>
<path transform="translate(18.17,0.00) rotate(0)" d="M-3.22,0 Q0,-2.93 3.22,0 Q0,2.93 -3.22,0 Z"/>
<path d="M3.13,0 L15.14,0" stroke-width="0.56"/>
</g>
<g>
<path d="M99.6,370.4 L101.6,366.6 L103.4,368.4 Z M118.6,351.6 L116.6,355.4 L114.8,353.6 Z" fill="#4F779B"/>
<circle cx="104.6" cy="365.2" r="4.2" fill="#8EA9C1" stroke="#6A8EAD" stroke-width="0.8"/>
<circle cx="109.3" cy="361.2" r="4.2" fill="#8EA9C1" stroke="#6A8EAD" stroke-width="0.8"/>
<circle cx="114.0" cy="357.0" r="4.2" fill="#8EA9C1" stroke="#6A8EAD" stroke-width="0.8"/>
<circle cx="104.6" cy="365.2" r="2.5" fill="#9DB5C9" stroke="#6F92AF" stroke-width="0.6"/>
<ellipse cx="104.6" cy="365.2" rx="1.5" ry="0.9" transform="rotate(-42 104.6 365.2)" fill="#F2F6F9"/>
<circle cx="109.3" cy="361.2" r="2.5" fill="#9DB5C9" stroke="#6F92AF" stroke-width="0.6"/>
<ellipse cx="109.3" cy="361.2" rx="1.5" ry="0.9" transform="rotate(-42 109.3 361.2)" fill="#F2F6F9"/>
<circle cx="114.0" cy="357.0" r="2.5" fill="#9DB5C9" stroke="#6F92AF" stroke-width="0.6"/>
<ellipse cx="114.0" cy="357.0" rx="1.5" ry="0.9" transform="rotate(-42 114.0 357.0)" fill="#F2F6F9"/>
</g>
<g transform="translate(327.2,306.6) rotate(-52)" fill="none" stroke="#3F6A90" stroke-width="0.8">
<path d="M-8.5,0 Q-3,-5.2 8.5,-1.2 Q9.3,0 8.5,1.2 Q-3,5.2 -8.5,0 Z" stroke-width="1.0"/>
<path d="M-8.5,0 Q-6,-6 2,-4.5 M-8.5,0 Q-6,6 2,4.5" />
<path d="M-4,-2.6 L-4,2.6 M-1,-3 L-1,3 M2,-2.8 L2,2.8 M5,-2.2 L5,2.2 M-6,0 L8,0" stroke-width="0.45"/>
</g>
<text x="464.60" y="282.90" font-size="11.6" font-weight="700" fill="#1F5279" textLength="142.90" lengthAdjust="spacingAndGlyphs">НАПРЯМИ ЕКСПОРТУ</text>
<rect x="477.9" y="325" width="1.5" height="75" fill="#1F5279"/>
<rect x="464.3" y="299.4" width="28.6" height="28.4" fill="#1F5279"/>
<rect x="464.3" y="347.0" width="28.6" height="28.4" fill="#1F5279"/>
<rect x="464.3" y="397.0" width="28.6" height="28.4" fill="#1F5279"/>
<text x="471.20" y="317.40" font-size="10.8" font-weight="700" fill="#FFFFFF" textLength="15.30" lengthAdjust="spacingAndGlyphs">2%</text>
<text x="468.60" y="365.20" font-size="10.8" font-weight="700" fill="#FFFFFF" textLength="21.60" lengthAdjust="spacingAndGlyphs">53%</text>
<text x="467.80" y="415.00" font-size="10.8" font-weight="700" fill="#FFFFFF" textLength="22.40" lengthAdjust="spacingAndGlyphs">45%</text>
<text x="512.60" y="317.90" font-size="11.6" font-weight="700" fill="#1F5279" textLength="102.80" lengthAdjust="spacingAndGlyphs">Африка, 16 тис. т</text>
<text x="510.40" y="365.60" font-size="11.6" font-weight="700" fill="#1F5279" textLength="108.50" lengthAdjust="spacingAndGlyphs">Європа, 347 тис. т</text>
<text x="510.40" y="415.00" font-size="11.6" font-weight="700" fill="#1F5279" textLength="87.00" lengthAdjust="spacingAndGlyphs">Азія, 291 тис. т</text>
<g transform="translate(30,465) scale(0.142857)">
<polygon points="140,372 140,272 218,197 218,372" fill="#1F5279"/>
<polygon points="248,372 248,197 290,237 330,197 330,372" fill="#1F5279"/>
<polygon points="362,372 362,160 400,125 440,160 440,372" fill="#1F5279"/>
<clipPath id="gc"><rect x="138" y="0" width="400" height="400"/></clipPath>
<polyline clip-path="url(#gc)" points="120,237 232,127 290,183 400,72" fill="none" stroke="#1F5279" stroke-width="25" stroke-linejoin="miter"/>
<polygon points="370,47 434,34 424,100" fill="#1F5279"/>
</g>
<text x="105.80" y="512.80" font-size="17.8" font-weight="700" fill="#F26C2D" textLength="90.20" lengthAdjust="spacingAndGlyphs">Динаміка</text>
<text x="202.40" y="512.80" font-size="17.8" font-weight="400" fill="#37678F" textLength="275.20" lengthAdjust="spacingAndGlyphs">роботи «зернового коридору»</text>
<rect x="493.4" y="488.6" width="137.5" height="34.3" fill="#F26C2D"/>
<text x="507.60" y="510.80" font-size="13.6" font-weight="700" fill="#FFFFFF" textLength="110.40" lengthAdjust="spacingAndGlyphs">тис. т/тиждень</text>
<rect x="29.70" y="681.46" width="13.2" height="30.84" fill="#1F5279"/>
<text x="28.49" y="676.46" font-size="9.0" font-weight="400" fill="#7D7D7D" textLength="15.62" lengthAdjust="spacingAndGlyphs">246</text>
<text x="31.25" y="728.90" font-size="12.6" font-weight="700" fill="#1F5279" textLength="7.71" lengthAdjust="spacingAndGlyphs">1</text>
<rect x="50.08" y="686.53" width="13.2" height="25.77" fill="#1F5279"/>
<text x="48.87" y="681.53" font-size="9.0" font-weight="400" fill="#7D7D7D" textLength="15.62" lengthAdjust="spacingAndGlyphs">208</text>
<text x="51.62" y="728.90" font-size="12.6" font-weight="700" fill="#1F5279" textLength="7.71" lengthAdjust="spacingAndGlyphs">2</text>
<rect x="70.45" y="682.66" width="13.2" height="29.64" fill="#1F5279"/>
<text x="69.25" y="677.66" font-size="9.0" font-weight="400" fill="#7D7D7D" textLength="15.62" lengthAdjust="spacingAndGlyphs">237</text>
<text x="72.90" y="728.90" font-size="12.6" font-weight="700" fill="#1F5279" textLength="7.71" lengthAdjust="spacingAndGlyphs">3</text>
<rect x="90.83" y="639.67" width="13.2" height="72.63" fill="#1F5279"/>
<text x="89.62" y="634.67" font-size="9.0" font-weight="400" fill="#7D7D7D" textLength="15.62" lengthAdjust="spacingAndGlyphs">559</text>
<text x="93.28" y="728.90" font-size="12.6" font-weight="700" fill="#1F5279" textLength="7.71" lengthAdjust="spacingAndGlyphs">4</text>
<rect x="111.21" y="603.90" width="13.2" height="108.40" fill="#1F5279"/>
<text x="110.00" y="598.90" font-size="9.0" font-weight="400" fill="#7D7D7D" textLength="15.62" lengthAdjust="spacingAndGlyphs">827</text>
<text x="112.95" y="728.90" font-size="12.6" font-weight="700" fill="#1F5279" textLength="7.71" lengthAdjust="spacingAndGlyphs">5</text>
<rect x="131.58" y="643.41" width="13.2" height="68.89" fill="#1F5279"/>
<text x="130.38" y="638.41" font-size="9.0" font-weight="400" fill="#7D7D7D" textLength="15.62" lengthAdjust="spacingAndGlyphs">531</text>
<text x="134.33" y="728.90" font-size="12.6" font-weight="700" fill="#1F5279" textLength="7.71" lengthAdjust="spacingAndGlyphs">6</text>
<rect x="151.96" y="571.86" width="13.2" height="140.44" fill="#1F5279"/>
<text x="147.21" y="566.86" font-size="9.0" font-weight="400" fill="#7D7D7D" textLength="22.70" lengthAdjust="spacingAndGlyphs">1 067</text>
<text x="154.71" y="728.90" font-size="12.6" font-weight="700" fill="#1F5279" textLength="7.71" lengthAdjust="spacingAndGlyphs">7</text>
<rect x="172.34" y="559.57" width="13.2" height="152.73" fill="#1F5279"/>
<text x="167.59" y="554.57" font-size="9.0" font-weight="400" fill="#7D7D7D" textLength="22.70" lengthAdjust="spacingAndGlyphs">1 159</text>
<text x="175.08" y="728.90" font-size="12.6" font-weight="700" fill="#1F5279" textLength="7.71" lengthAdjust="spacingAndGlyphs">8</text>
<rect x="192.72" y="590.55" width="13.2" height="121.75" fill="#1F5279"/>
<text x="191.51" y="585.55" font-size="9.0" font-weight="400" fill="#7D7D7D" textLength="15.62" lengthAdjust="spacingAndGlyphs">927</text>
<text x="195.46" y="728.90" font-size="12.6" font-weight="700" fill="#1F5279" textLength="7.71" lengthAdjust="spacingAndGlyphs">9</text>
<rect x="213.09" y="573.86" width="13.2" height="138.44" fill="#1F5279"/>
<text x="208.34" y="568.86" font-size="9.0" font-weight="400" fill="#7D7D7D" textLength="22.70" lengthAdjust="spacingAndGlyphs">1 052</text>
<text x="210.08" y="728.90" font-size="12.6" font-weight="700" fill="#1F5279" textLength="15.42" lengthAdjust="spacingAndGlyphs">10</text>
<rect x="233.47" y="599.49" width="13.2" height="112.81" fill="#1F5279"/>
<text x="232.26" y="594.49" font-size="9.0" font-weight="400" fill="#7D7D7D" textLength="15.62" lengthAdjust="spacingAndGlyphs">860</text>
<text x="233.74" y="728.90" font-size="12.6" font-weight="700" fill="#1F5279" textLength="14.65" lengthAdjust="spacingAndGlyphs">11</text>
<rect x="253.85" y="609.10" width="13.2" height="103.20" fill="#1F5279"/>
<text x="252.64" y="604.10" font-size="9.0" font-weight="400" fill="#7D7D7D" textLength="15.62" lengthAdjust="spacingAndGlyphs">788</text>
<text x="252.04" y="728.90" font-size="12.6" font-weight="700" fill="#1F5279" textLength="15.42" lengthAdjust="spacingAndGlyphs">12</text>
<rect x="274.22" y="574.79" width="13.2" height="137.51" fill="#1F5279"/>
<text x="269.48" y="569.79" font-size="9.0" font-weight="400" fill="#7D7D7D" textLength="22.70" lengthAdjust="spacingAndGlyphs">1 045</text>
<text x="273.12" y="728.90" font-size="12.6" font-weight="700" fill="#1F5279" textLength="15.42" lengthAdjust="spacingAndGlyphs">13</text>
<rect x="294.60" y="641.41" width="13.2" height="70.89" fill="#1F5279"/>
<text x="293.39" y="636.41" font-size="9.0" font-weight="400" fill="#7D7D7D" textLength="15.62" lengthAdjust="spacingAndGlyphs">546</text>
<text x="293.49" y="728.90" font-size="12.6" font-weight="700" fill="#1F5279" textLength="15.42" lengthAdjust="spacingAndGlyphs">14</text>
<rect x="314.98" y="644.08" width="13.2" height="68.22" fill="#1F5279"/>
<text x="313.77" y="639.08" font-size="9.0" font-weight="400" fill="#7D7D7D" textLength="15.62" lengthAdjust="spacingAndGlyphs">526</text>
<text x="313.87" y="728.90" font-size="12.6" font-weight="700" fill="#1F5279" textLength="15.42" lengthAdjust="spacingAndGlyphs">15</text>
<rect x="335.35" y="581.60" width="13.2" height="130.70" fill="#1F5279"/>
<text x="334.15" y="576.60" font-size="9.0" font-weight="400" fill="#7D7D7D" textLength="15.62" lengthAdjust="spacingAndGlyphs">994</text>
<text x="334.25" y="728.90" font-size="12.6" font-weight="700" fill="#1F5279" textLength="15.42" lengthAdjust="spacingAndGlyphs">16</text>
<rect x="355.73" y="634.07" width="13.2" height="78.23" fill="#1F5279"/>
<text x="354.52" y="629.07" font-size="9.0" font-weight="400" fill="#7D7D7D" textLength="15.62" lengthAdjust="spacingAndGlyphs">601</text>
<text x="353.92" y="728.90" font-size="12.6" font-weight="700" fill="#1F5279" textLength="15.42" lengthAdjust="spacingAndGlyphs">17</text>
<rect x="376.11" y="602.43" width="13.2" height="109.87" fill="#1F5279"/>
<text x="374.90" y="597.43" font-size="9.0" font-weight="400" fill="#7D7D7D" textLength="15.62" lengthAdjust="spacingAndGlyphs">838</text>
<text x="373.10" y="728.90" font-size="12.6" font-weight="700" fill="#1F5279" textLength="15.42" lengthAdjust="spacingAndGlyphs">18</text>
<rect x="396.49" y="626.59" width="13.2" height="85.71" fill="#1F5279"/>
<text x="395.28" y="621.59" font-size="9.0" font-weight="400" fill="#7D7D7D" textLength="15.62" lengthAdjust="spacingAndGlyphs">657</text>
<text x="394.68" y="728.90" font-size="12.6" font-weight="700" fill="#1F5279" textLength="15.42" lengthAdjust="spacingAndGlyphs">19</text>
<rect x="416.86" y="645.55" width="13.2" height="66.75" fill="#1F5279"/>
<text x="415.65" y="640.55" font-size="9.0" font-weight="400" fill="#7D7D7D" textLength="15.62" lengthAdjust="spacingAndGlyphs">515</text>
<text x="415.75" y="728.90" font-size="12.6" font-weight="700" fill="#1F5279" textLength="15.42" lengthAdjust="spacingAndGlyphs">20</text>
<rect x="437.24" y="553.97" width="13.2" height="158.33" fill="#1F5279"/>
<text x="432.49" y="548.97" font-size="9.0" font-weight="400" fill="#7D7D7D" textLength="22.70" lengthAdjust="spacingAndGlyphs">1 201</text>
<text x="436.13" y="728.90" font-size="12.6" font-weight="700" fill="#1F5279" textLength="15.42" lengthAdjust="spacingAndGlyphs">21</text>
<rect x="457.62" y="588.81" width="13.2" height="123.49" fill="#1F5279"/>
<text x="456.41" y="583.81" font-size="9.0" font-weight="400" fill="#7D7D7D" textLength="15.62" lengthAdjust="spacingAndGlyphs">940</text>
<text x="456.51" y="728.90" font-size="12.6" font-weight="700" fill="#1F5279" textLength="15.42" lengthAdjust="spacingAndGlyphs">22</text>
<rect x="477.99" y="632.73" width="13.2" height="79.57" fill="#1F5279"/>
<text x="477.13" y="627.73" font-size="9.0" font-weight="400" fill="#7D7D7D" textLength="14.92" lengthAdjust="spacingAndGlyphs">611</text>
<text x="476.89" y="728.90" font-size="12.6" font-weight="700" fill="#1F5279" textLength="15.42" lengthAdjust="spacingAndGlyphs">23</text>
<rect x="498.37" y="648.75" width="13.2" height="63.55" fill="#1F5279"/>
<text x="497.16" y="643.75" font-size="9.0" font-weight="400" fill="#7D7D7D" textLength="15.62" lengthAdjust="spacingAndGlyphs">491</text>
<text x="498.26" y="727.40" font-size="13.1" font-weight="700" fill="#1F5279" textLength="16.03" lengthAdjust="spacingAndGlyphs">24</text>
<rect x="518.75" y="594.95" width="13.2" height="117.35" fill="#1F5279"/>
<text x="517.54" y="589.95" font-size="9.0" font-weight="400" fill="#7D7D7D" textLength="15.62" lengthAdjust="spacingAndGlyphs">894</text>
<text x="520.33" y="727.40" font-size="13.1" font-weight="700" fill="#1F5279" textLength="16.03" lengthAdjust="spacingAndGlyphs">25</text>
<rect x="539.12" y="633.13" width="13.2" height="79.17" fill="#1F5279"/>
<text x="537.92" y="628.13" font-size="9.0" font-weight="400" fill="#7D7D7D" textLength="15.62" lengthAdjust="spacingAndGlyphs">608</text>
<text x="537.71" y="727.40" font-size="13.1" font-weight="700" fill="#1F5279" textLength="16.03" lengthAdjust="spacingAndGlyphs">26</text>
<rect x="559.50" y="585.07" width="13.2" height="127.23" fill="#1F5279"/>
<text x="558.29" y="580.07" font-size="9.0" font-weight="400" fill="#7D7D7D" textLength="15.62" lengthAdjust="spacingAndGlyphs">968</text>
<text x="557.49" y="727.40" font-size="13.1" font-weight="700" fill="#1F5279" textLength="16.03" lengthAdjust="spacingAndGlyphs">27</text>
<rect x="579.88" y="562.51" width="13.2" height="149.79" fill="#1F5279"/>
<text x="576.41" y="557.51" font-size="9.0" font-weight="400" fill="#7D7D7D" textLength="20.13" lengthAdjust="spacingAndGlyphs">1137</text>
<text x="580.66" y="727.40" font-size="13.1" font-weight="700" fill="#1F5279" textLength="16.03" lengthAdjust="spacingAndGlyphs">28</text>
<rect x="600.26" y="612.84" width="13.2" height="99.46" fill="#1F5279"/>
<text x="599.05" y="607.84" font-size="9.0" font-weight="400" fill="#7D7D7D" textLength="15.62" lengthAdjust="spacingAndGlyphs">760</text>
<text x="599.24" y="727.40" font-size="13.1" font-weight="700" fill="#1F5279" textLength="16.03" lengthAdjust="spacingAndGlyphs">29</text>
<rect x="620.63" y="644.08" width="13.2" height="68.22" fill="#1F5279"/>
<text x="619.42" y="639.08" font-size="9.0" font-weight="400" fill="#7D7D7D" textLength="15.62" lengthAdjust="spacingAndGlyphs">526</text>
<text x="619.22" y="727.40" font-size="13.1" font-weight="700" fill="#1F5279" textLength="16.03" lengthAdjust="spacingAndGlyphs">30</text>
<rect x="641.01" y="577.86" width="13.2" height="134.44" fill="#1F5279"/>
<text x="636.26" y="572.86" font-size="9.0" font-weight="400" fill="#7D7D7D" textLength="22.70" lengthAdjust="spacingAndGlyphs">1 022</text>
<text x="640.60" y="727.40" font-size="13.1" font-weight="700" fill="#1F5279" textLength="16.03" lengthAdjust="spacingAndGlyphs">31</text>
<rect x="661.39" y="626.99" width="13.2" height="85.31" fill="#1F5279"/>
<text x="660.18" y="621.99" font-size="9.0" font-weight="400" fill="#7D7D7D" textLength="15.62" lengthAdjust="spacingAndGlyphs">654</text>
<text x="661.48" y="728.90" font-size="12.6" font-weight="700" fill="#1F5279" textLength="15.42" lengthAdjust="spacingAndGlyphs">32</text>
<text x="23.20" y="776.80" font-size="12.3" font-weight="700" fill="#F26C2D" textLength="55.60" lengthAdjust="spacingAndGlyphs">24 млн т</text>
<text x="83.00" y="776.80" font-size="12.3" font-weight="400" fill="#555555" textLength="179.60" lengthAdjust="spacingAndGlyphs">- всього вивезено у період з</text>
<text x="266.80" y="776.80" font-size="12.3" font-weight="700" fill="#3A3A3A" textLength="103.50" lengthAdjust="spacingAndGlyphs">01.08.22-12.03.23</text>
<rect x="0" y="787.9" width="561.7" height="1.5" fill="#2F608A"/>
<rect x="674.2" y="787.9" width="25.8" height="1.5" fill="#2F608A"/>
<text x="21.20" y="804.10" font-size="13.0" font-weight="400" fill="#555555" textLength="94.80" lengthAdjust="spacingAndGlyphs">Джерело: ООН</text>
<g fill="none" stroke="#0A9AAA" stroke-width="6.4" stroke-linecap="butt" stroke-linejoin="round">
<path d="M574.7,777.9 L574.7,788.8 A7.55,7.55 0 0 0 589.8,788.8 L589.8,777.9"/>
<path stroke-linecap="round" d="M612.6,783.7 A7.65,7.65 0 1 0 612.6,793.8"/>
<path d="M634.0,796.6 L629.95,796.6 A7.85,7.85 0 1 1 637.8,788.75 L637.8,793.0"/>
<path d="M647.2,770.5 L647.2,788.75"/>
<circle cx="655.2" cy="788.75" r="8.0"/>
</g>
<rect x="633.7" y="792.7" width="7.3" height="6.9" fill="#F26C2D"/>
</svg>
</body>
</html>
